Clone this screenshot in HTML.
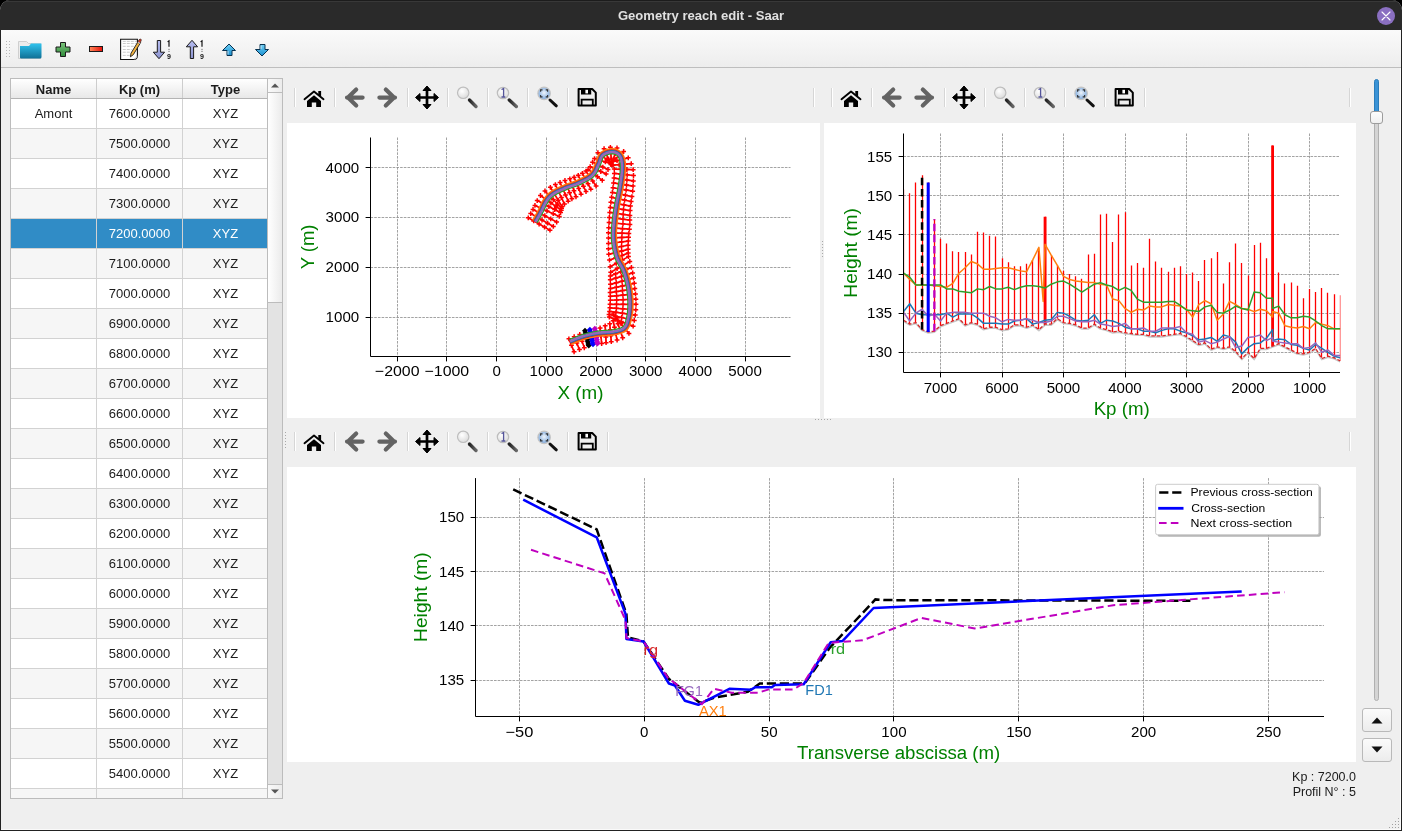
<!DOCTYPE html><html><head><meta charset="utf-8"><style>
*{margin:0;padding:0;box-sizing:border-box}
html,body{width:1402px;height:831px;overflow:hidden;background:#000}
body{font-family:"Liberation Sans",sans-serif;position:relative;-webkit-font-smoothing:antialiased}
#win{will-change:transform}
.abs{position:absolute}
#win{position:absolute;left:0;top:0;width:1402px;height:831px;background:#efefef;border-radius:10px 10px 0 0;overflow:hidden}
#title{position:absolute;left:0;top:0;width:1402px;height:30px;background:#2a2a2a;border-top:1px solid #1c1c1c;box-shadow:inset 0 1px 0 #383838}
#title .t{position:absolute;left:0;width:1402px;top:7px;text-align:center;color:#e0e0e0;font-weight:bold;font-size:13px;transform:scaleX(1.004);transform-origin:701px 0}
#tb{position:absolute;left:1px;top:30px;width:1400px;height:38px;background:linear-gradient(#fafafa,#ededed);border-bottom:1px solid #bebebe}
.tbl{position:absolute;left:10px;top:78px;width:259px;height:721px;border:1px solid #bcbcbc;border-right:none;background:#fff;overflow:hidden}
.row{position:absolute;left:0;width:257px;height:30px;border-bottom:1px solid #d2d2d2;font-size:13px;color:#1c1c1c}
.row.alt{background:#f6f6f6}
.row.sel{background:#308cc6;color:#fff}
.row div{position:absolute;top:0;height:29px;line-height:30px;text-align:center;border-right:1px solid #d2d2d2}
.hdr{position:absolute;left:0;top:0;width:257px;height:20px;background:linear-gradient(#ffffff,#e8e8e8);border-bottom:1px solid #b4b4b4;font-size:13px;font-weight:bold;color:#1c1c1c}
.hdr div{position:absolute;top:0;height:19px;line-height:21px;text-align:center;border-right:1px solid #cdcdcd}
.sep{position:absolute;width:2px;height:19px;border-left:1px solid #d6d6d6;border-right:1px solid #ffffff}
.panel{position:absolute;background:#fff}
</style></head><body>
<div id="win">
<div id="title"><div class="t">Geometry reach edit - Saar</div><svg class="abs" style="left:1376px;top:5px" width="20" height="20" viewBox="0 0 20 20"><circle cx="10" cy="10" r="9" fill="#8a6fc1"/><path d="M6 6L14 14M14 6L6 14" stroke="#fff" stroke-width="1.1" stroke-linecap="round"/></svg></div>
<div class="abs" style="left:0;top:30px;width:1px;height:801px;background:#222"></div>
<div class="abs" style="left:1401px;top:30px;width:1px;height:801px;background:#222"></div>
<div class="abs" style="left:0;top:830px;width:1402px;height:1px;background:#222"></div>
<div id="tb"></div><svg class="abs" style="left:0;top:0" width="290" height="70" viewBox="0 0 290 70"><rect x="6" y="41" width="1" height="1" fill="#b8b8b8"/><rect x="9" y="41" width="1" height="1" fill="#b8b8b8"/><rect x="6" y="44" width="1" height="1" fill="#b8b8b8"/><rect x="9" y="44" width="1" height="1" fill="#b8b8b8"/><rect x="6" y="47" width="1" height="1" fill="#b8b8b8"/><rect x="9" y="47" width="1" height="1" fill="#b8b8b8"/><rect x="6" y="50" width="1" height="1" fill="#b8b8b8"/><rect x="9" y="50" width="1" height="1" fill="#b8b8b8"/><rect x="6" y="53" width="1" height="1" fill="#b8b8b8"/><rect x="9" y="53" width="1" height="1" fill="#b8b8b8"/><rect x="6" y="56" width="1" height="1" fill="#b8b8b8"/><rect x="9" y="56" width="1" height="1" fill="#b8b8b8"/><defs><linearGradient id="fg" x1="0" y1="0" x2="0" y2="1"><stop offset="0" stop-color="#2fc3ee"/><stop offset="1" stop-color="#0f6f95"/></linearGradient><linearGradient id="pg" x1="0" y1="0" x2="0" y2="1"><stop offset="0" stop-color="#7cc47c"/><stop offset="1" stop-color="#2f8a3a"/></linearGradient><linearGradient id="mg" x1="0" y1="0" x2="1" y2="0"><stop offset="0" stop-color="#ff8a5a"/><stop offset="1" stop-color="#e8100a"/></linearGradient><linearGradient id="sg" x1="0" y1="0" x2="0" y2="1"><stop offset="0" stop-color="#b7bdf0"/><stop offset="1" stop-color="#8b93cf"/></linearGradient><linearGradient id="ag" x1="0" y1="0" x2="0" y2="1"><stop offset="0" stop-color="#6fd0f5"/><stop offset="1" stop-color="#1a8fd0"/></linearGradient></defs><path d="M18.5 41.5h8l2 2h12v15h-22z" fill="#ececec" stroke="#cfcfcf" stroke-width="1"/><path d="M20 46h9l2-2.5h10.5v13.5q0 1.5-1.5 1.5h-19q-1 0-1-1z" fill="url(#fg)"/><path d="M60.5 42.5h5v4.5h4.5v5h-4.5v4.5h-5v-4.5h-4.5v-5h4.5z" fill="url(#pg)" stroke="#1a1a1a" stroke-width="1"/><rect x="89.5" y="46.5" width="13" height="5" fill="url(#mg)" stroke="#1a1a1a" stroke-width="1"/><path d="M120.6 39.2H137.4V55.5Q137.4 59.5 133.4 59.5H120.6z" fill="#fff" stroke="#111" stroke-width="1.1"/><path d="M133.6 59.4Q137.4 59 137.3 55.6Q135.5 57.8 133.6 59.4z" fill="#ccc"/><path d="M122.8 41.4h14M122.8 43.5h13M122.8 46.3h11M122.8 49.5h9M122.8 52.2h8M122.8 55.4h7" stroke="#b5b5b5" stroke-width="0.7" stroke-dasharray="3 1"/><path d="M130.4 56.8L131 53.2L138.3 41.2L140.6 42.7L133.3 54.7z" fill="#f2b340" stroke="#1a1a1a" stroke-width="0.9" stroke-linejoin="round"/><path d="M137.6 42.3L139.2 39.6Q140.4 38.5 141.3 39.6L141.1 40.9L139.6 43.6z" fill="#d8381e" stroke="#1a1a1a" stroke-width="0.6"/><path d="M137.8 42.1L140.4 43.7" stroke="#bdbdbd" stroke-width="1.2"/><path d="M157.3 40.5H160.6V52.2H164.6L159 58.7L153.3 52.2H157.3z" fill="url(#sg)" stroke="#1a1a1a" stroke-width="1" stroke-linejoin="round"/><path d="M167.6 41.8L169 40.9V46.7" fill="none" stroke="#111" stroke-width="1.2"/><circle cx="169" cy="49.2" r="0.5" fill="#222"/><circle cx="169" cy="51.2" r="0.5" fill="#222"/><text x="169" y="58.9" font-size="7" font-weight="bold" text-anchor="middle" fill="#111">9</text><path d="M190.3 58.5H193.6V46.8H197.6L192 40.3L186.3 46.8H190.3z" fill="url(#sg)" stroke="#1a1a1a" stroke-width="1" stroke-linejoin="round"/><path d="M200.6 41.8L202 40.9V46.7" fill="none" stroke="#111" stroke-width="1.2"/><circle cx="202" cy="49.2" r="0.5" fill="#222"/><circle cx="202" cy="51.2" r="0.5" fill="#222"/><text x="202" y="58.9" font-size="7" font-weight="bold" text-anchor="middle" fill="#111">9</text><path d="M229 44l6.5 6.5h-3.5v5h-5v-5h-4.5z" fill="url(#ag)" stroke="#06304f" stroke-width="1"/><path d="M228 51v3.6" stroke="#e8f6ff" stroke-width="0.8"/><path d="M262 56l6.5-6.5h-3.5v-5h-5v5h-4.5z" fill="url(#ag)" stroke="#06304f" stroke-width="1"/><path d="M261 45.5v3.6" stroke="#e8f6ff" stroke-width="0.8"/></svg>
<div class="tbl"><div class="hdr"><div style="left:0;width:86px">Name</div><div style="left:86px;width:86px">Kp (m)</div><div style="left:172px;width:85px;border-right:none">Type</div></div><div class="row" style="top:20px"><div style="left:0;width:86px">Amont</div><div style="left:86px;width:86px">7600.0000</div><div style="left:172px;width:85px;border-right:none">XYZ</div></div><div class="row alt" style="top:50px"><div style="left:0;width:86px"></div><div style="left:86px;width:86px">7500.0000</div><div style="left:172px;width:85px;border-right:none">XYZ</div></div><div class="row" style="top:80px"><div style="left:0;width:86px"></div><div style="left:86px;width:86px">7400.0000</div><div style="left:172px;width:85px;border-right:none">XYZ</div></div><div class="row alt" style="top:110px"><div style="left:0;width:86px"></div><div style="left:86px;width:86px">7300.0000</div><div style="left:172px;width:85px;border-right:none">XYZ</div></div><div class="row sel" style="top:140px"><div style="left:0;width:86px"></div><div style="left:86px;width:86px">7200.0000</div><div style="left:172px;width:85px;border-right:none">XYZ</div></div><div class="row alt" style="top:170px"><div style="left:0;width:86px"></div><div style="left:86px;width:86px">7100.0000</div><div style="left:172px;width:85px;border-right:none">XYZ</div></div><div class="row" style="top:200px"><div style="left:0;width:86px"></div><div style="left:86px;width:86px">7000.0000</div><div style="left:172px;width:85px;border-right:none">XYZ</div></div><div class="row alt" style="top:230px"><div style="left:0;width:86px"></div><div style="left:86px;width:86px">6900.0000</div><div style="left:172px;width:85px;border-right:none">XYZ</div></div><div class="row" style="top:260px"><div style="left:0;width:86px"></div><div style="left:86px;width:86px">6800.0000</div><div style="left:172px;width:85px;border-right:none">XYZ</div></div><div class="row alt" style="top:290px"><div style="left:0;width:86px"></div><div style="left:86px;width:86px">6700.0000</div><div style="left:172px;width:85px;border-right:none">XYZ</div></div><div class="row" style="top:320px"><div style="left:0;width:86px"></div><div style="left:86px;width:86px">6600.0000</div><div style="left:172px;width:85px;border-right:none">XYZ</div></div><div class="row alt" style="top:350px"><div style="left:0;width:86px"></div><div style="left:86px;width:86px">6500.0000</div><div style="left:172px;width:85px;border-right:none">XYZ</div></div><div class="row" style="top:380px"><div style="left:0;width:86px"></div><div style="left:86px;width:86px">6400.0000</div><div style="left:172px;width:85px;border-right:none">XYZ</div></div><div class="row alt" style="top:410px"><div style="left:0;width:86px"></div><div style="left:86px;width:86px">6300.0000</div><div style="left:172px;width:85px;border-right:none">XYZ</div></div><div class="row" style="top:440px"><div style="left:0;width:86px"></div><div style="left:86px;width:86px">6200.0000</div><div style="left:172px;width:85px;border-right:none">XYZ</div></div><div class="row alt" style="top:470px"><div style="left:0;width:86px"></div><div style="left:86px;width:86px">6100.0000</div><div style="left:172px;width:85px;border-right:none">XYZ</div></div><div class="row" style="top:500px"><div style="left:0;width:86px"></div><div style="left:86px;width:86px">6000.0000</div><div style="left:172px;width:85px;border-right:none">XYZ</div></div><div class="row alt" style="top:530px"><div style="left:0;width:86px"></div><div style="left:86px;width:86px">5900.0000</div><div style="left:172px;width:85px;border-right:none">XYZ</div></div><div class="row" style="top:560px"><div style="left:0;width:86px"></div><div style="left:86px;width:86px">5800.0000</div><div style="left:172px;width:85px;border-right:none">XYZ</div></div><div class="row alt" style="top:590px"><div style="left:0;width:86px"></div><div style="left:86px;width:86px">5700.0000</div><div style="left:172px;width:85px;border-right:none">XYZ</div></div><div class="row" style="top:620px"><div style="left:0;width:86px"></div><div style="left:86px;width:86px">5600.0000</div><div style="left:172px;width:85px;border-right:none">XYZ</div></div><div class="row alt" style="top:650px"><div style="left:0;width:86px"></div><div style="left:86px;width:86px">5500.0000</div><div style="left:172px;width:85px;border-right:none">XYZ</div></div><div class="row" style="top:680px"><div style="left:0;width:86px"></div><div style="left:86px;width:86px">5400.0000</div><div style="left:172px;width:85px;border-right:none">XYZ</div></div><div class="row alt" style="top:710px"><div style="left:0;width:86px"></div><div style="left:86px;width:86px">5300.0000</div><div style="left:172px;width:85px;border-right:none">XYZ</div></div></div>
<div class="abs" style="left:267px;top:78px;width:1px;height:721px;background:#bcbcbc"></div>
<div class="abs" style="left:268px;top:78px;width:15px;height:721px;background:#e3e3e3;border-right:1px solid #bcbcbc;border-top:1px solid #bcbcbc;border-bottom:1px solid #bcbcbc"></div>
<div class="abs" style="left:268px;top:79px;width:14px;height:14px;background:linear-gradient(90deg,#f9f9f9,#ececec);border-bottom:1px solid #bcbcbc"></div>
<svg class="abs" style="left:268px;top:79px" width="14" height="14"><path d="M3 8.5h8l-4-4z" fill="#555"/></svg>
<div class="abs" style="left:268px;top:93px;width:14px;height:210px;background:linear-gradient(90deg,#ffffff,#ebebeb);border-bottom:1px solid #bcbcbc"></div>
<div class="abs" style="left:268px;top:784px;width:14px;height:14px;background:linear-gradient(90deg,#f9f9f9,#ececec);border-top:1px solid #bcbcbc"></div>
<svg class="abs" style="left:268px;top:784px" width="14" height="14"><path d="M3 5.5h8l-4 4z" fill="#555"/></svg>
<div class="sep" style="left:294px;top:88px"></div><div class="sep" style="left:334px;top:88px"></div><div class="sep" style="left:407px;top:88px"></div><div class="sep" style="left:447px;top:88px"></div><div class="sep" style="left:487px;top:88px"></div><div class="sep" style="left:527px;top:88px"></div><div class="sep" style="left:567px;top:88px"></div><div class="sep" style="left:607px;top:88px"></div><div class="sep" style="left:813px;top:88px"></div><svg class="abs" style="left:290px;top:80px" width="320" height="34" viewBox="290 80 320 34"><defs><radialGradient id="gl" cx="0.4" cy="0.35" r="0.7"><stop offset="0" stop-color="#ffffff"/><stop offset="1" stop-color="#d9d9d9"/></radialGradient><radialGradient id="gb" cx="0.5" cy="0.45" r="0.6"><stop offset="0" stop-color="#eef4fb"/><stop offset="1" stop-color="#6e9fd8"/></radialGradient><linearGradient id="hg" x1="0" y1="0" x2="1" y2="0"><stop offset="0" stop-color="#222"/><stop offset="1" stop-color="#666"/></linearGradient></defs><path d="M304.5 99.2L314 91.6L323.5 99.2" fill="none" stroke="#000" stroke-width="1.9" stroke-linecap="round" stroke-linejoin="round"/><rect x="318.3" y="91" width="2.8" height="5" fill="#000"/><path d="M307 101L314 95.3L321 101V107H316.2V102.5H311.8V107H307z" fill="#000"/><path d="M356.2 89.6L348 97.6L356.2 105.6M347 97.6H362.6" fill="none" stroke="#636363" stroke-width="4.2" stroke-linecap="round" stroke-linejoin="round"/><path d="M385.8 89.6L394 97.6L385.8 105.6M395 97.6H379.4" fill="none" stroke="#636363" stroke-width="4.2" stroke-linecap="round" stroke-linejoin="round"/><path d="M427 88V107M417 97.5H437" stroke="#000" stroke-width="2.7"/><path d="M427 86L431 90.5H423z M427 109L431 104.5H423z M415.5 97.5L420 93.5V101.5z M438.5 97.5L434 93.5V101.5z" fill="#000" stroke="#000" stroke-width="1" stroke-linejoin="round"/><path d="M469.5 100L476 106.5" stroke="url(#hg)" stroke-width="3.4" stroke-linecap="round"/><circle cx="463.2" cy="92.8" r="5.7" fill="url(#gl)" stroke="#bdbdbd" stroke-width="1.2"/><path d="M509.3 100L516.3 106.5" stroke="url(#hg)" stroke-width="3.4" stroke-linecap="round"/><circle cx="503" cy="93" r="5.7" fill="url(#gl)" stroke="#bdbdbd" stroke-width="1.2"/><path d="M501.5 89.5L503.6 88.6V97M501.5 97H505.3" fill="none" stroke="#55559a" stroke-width="1.3"/><path d="M550 100L556.3 105.8" stroke="#111" stroke-width="3" stroke-linecap="round"/><circle cx="544.1" cy="93.4" r="6.2" fill="url(#gb)" stroke="#c4c4c4" stroke-width="1.2"/><path d="M540.6 91.8V89.9H542.5M545.7 89.9H547.6V91.8M547.6 95V96.9H545.7M542.5 96.9H540.6V95" fill="none" stroke="#333" stroke-width="1.1"/><path d="M578.6 89H592.2L595.8 92.6V105.6H578.6z" fill="none" stroke="#000" stroke-width="2" stroke-linejoin="round"/><rect x="581" y="88.5" width="10.2" height="6" fill="#000"/><rect x="585.4" y="89.8" width="2.6" height="3.6" fill="#fff"/><path d="M581.6 105.5V99.6H592.8V105.5" fill="none" stroke="#000" stroke-width="1.8"/></svg>
<div class="sep" style="left:831px;top:88px"></div><div class="sep" style="left:871px;top:88px"></div><div class="sep" style="left:944px;top:88px"></div><div class="sep" style="left:984px;top:88px"></div><div class="sep" style="left:1024px;top:88px"></div><div class="sep" style="left:1064px;top:88px"></div><div class="sep" style="left:1104px;top:88px"></div><div class="sep" style="left:1144px;top:88px"></div><div class="sep" style="left:1349px;top:88px"></div><svg class="abs" style="left:827px;top:80px" width="320" height="34" viewBox="290 80 320 34"><defs><radialGradient id="gl" cx="0.4" cy="0.35" r="0.7"><stop offset="0" stop-color="#ffffff"/><stop offset="1" stop-color="#d9d9d9"/></radialGradient><radialGradient id="gb" cx="0.5" cy="0.45" r="0.6"><stop offset="0" stop-color="#eef4fb"/><stop offset="1" stop-color="#6e9fd8"/></radialGradient><linearGradient id="hg" x1="0" y1="0" x2="1" y2="0"><stop offset="0" stop-color="#222"/><stop offset="1" stop-color="#666"/></linearGradient></defs><path d="M304.5 99.2L314 91.6L323.5 99.2" fill="none" stroke="#000" stroke-width="1.9" stroke-linecap="round" stroke-linejoin="round"/><rect x="318.3" y="91" width="2.8" height="5" fill="#000"/><path d="M307 101L314 95.3L321 101V107H316.2V102.5H311.8V107H307z" fill="#000"/><path d="M356.2 89.6L348 97.6L356.2 105.6M347 97.6H362.6" fill="none" stroke="#636363" stroke-width="4.2" stroke-linecap="round" stroke-linejoin="round"/><path d="M385.8 89.6L394 97.6L385.8 105.6M395 97.6H379.4" fill="none" stroke="#636363" stroke-width="4.2" stroke-linecap="round" stroke-linejoin="round"/><path d="M427 88V107M417 97.5H437" stroke="#000" stroke-width="2.7"/><path d="M427 86L431 90.5H423z M427 109L431 104.5H423z M415.5 97.5L420 93.5V101.5z M438.5 97.5L434 93.5V101.5z" fill="#000" stroke="#000" stroke-width="1" stroke-linejoin="round"/><path d="M469.5 100L476 106.5" stroke="url(#hg)" stroke-width="3.4" stroke-linecap="round"/><circle cx="463.2" cy="92.8" r="5.7" fill="url(#gl)" stroke="#bdbdbd" stroke-width="1.2"/><path d="M509.3 100L516.3 106.5" stroke="url(#hg)" stroke-width="3.4" stroke-linecap="round"/><circle cx="503" cy="93" r="5.7" fill="url(#gl)" stroke="#bdbdbd" stroke-width="1.2"/><path d="M501.5 89.5L503.6 88.6V97M501.5 97H505.3" fill="none" stroke="#55559a" stroke-width="1.3"/><path d="M550 100L556.3 105.8" stroke="#111" stroke-width="3" stroke-linecap="round"/><circle cx="544.1" cy="93.4" r="6.2" fill="url(#gb)" stroke="#c4c4c4" stroke-width="1.2"/><path d="M540.6 91.8V89.9H542.5M545.7 89.9H547.6V91.8M547.6 95V96.9H545.7M542.5 96.9H540.6V95" fill="none" stroke="#333" stroke-width="1.1"/><path d="M578.6 89H592.2L595.8 92.6V105.6H578.6z" fill="none" stroke="#000" stroke-width="2" stroke-linejoin="round"/><rect x="581" y="88.5" width="10.2" height="6" fill="#000"/><rect x="585.4" y="89.8" width="2.6" height="3.6" fill="#fff"/><path d="M581.6 105.5V99.6H592.8V105.5" fill="none" stroke="#000" stroke-width="1.8"/></svg>
<div class="sep" style="left:294px;top:432px"></div><div class="sep" style="left:334px;top:432px"></div><div class="sep" style="left:407px;top:432px"></div><div class="sep" style="left:447px;top:432px"></div><div class="sep" style="left:487px;top:432px"></div><div class="sep" style="left:527px;top:432px"></div><div class="sep" style="left:567px;top:432px"></div><div class="sep" style="left:607px;top:432px"></div><div class="sep" style="left:1349px;top:432px"></div><svg class="abs" style="left:290px;top:424px" width="320" height="34" viewBox="290 80 320 34"><defs><radialGradient id="gl" cx="0.4" cy="0.35" r="0.7"><stop offset="0" stop-color="#ffffff"/><stop offset="1" stop-color="#d9d9d9"/></radialGradient><radialGradient id="gb" cx="0.5" cy="0.45" r="0.6"><stop offset="0" stop-color="#eef4fb"/><stop offset="1" stop-color="#6e9fd8"/></radialGradient><linearGradient id="hg" x1="0" y1="0" x2="1" y2="0"><stop offset="0" stop-color="#222"/><stop offset="1" stop-color="#666"/></linearGradient></defs><path d="M304.5 99.2L314 91.6L323.5 99.2" fill="none" stroke="#000" stroke-width="1.9" stroke-linecap="round" stroke-linejoin="round"/><rect x="318.3" y="91" width="2.8" height="5" fill="#000"/><path d="M307 101L314 95.3L321 101V107H316.2V102.5H311.8V107H307z" fill="#000"/><path d="M356.2 89.6L348 97.6L356.2 105.6M347 97.6H362.6" fill="none" stroke="#636363" stroke-width="4.2" stroke-linecap="round" stroke-linejoin="round"/><path d="M385.8 89.6L394 97.6L385.8 105.6M395 97.6H379.4" fill="none" stroke="#636363" stroke-width="4.2" stroke-linecap="round" stroke-linejoin="round"/><path d="M427 88V107M417 97.5H437" stroke="#000" stroke-width="2.7"/><path d="M427 86L431 90.5H423z M427 109L431 104.5H423z M415.5 97.5L420 93.5V101.5z M438.5 97.5L434 93.5V101.5z" fill="#000" stroke="#000" stroke-width="1" stroke-linejoin="round"/><path d="M469.5 100L476 106.5" stroke="url(#hg)" stroke-width="3.4" stroke-linecap="round"/><circle cx="463.2" cy="92.8" r="5.7" fill="url(#gl)" stroke="#bdbdbd" stroke-width="1.2"/><path d="M509.3 100L516.3 106.5" stroke="url(#hg)" stroke-width="3.4" stroke-linecap="round"/><circle cx="503" cy="93" r="5.7" fill="url(#gl)" stroke="#bdbdbd" stroke-width="1.2"/><path d="M501.5 89.5L503.6 88.6V97M501.5 97H505.3" fill="none" stroke="#55559a" stroke-width="1.3"/><path d="M550 100L556.3 105.8" stroke="#111" stroke-width="3" stroke-linecap="round"/><circle cx="544.1" cy="93.4" r="6.2" fill="url(#gb)" stroke="#c4c4c4" stroke-width="1.2"/><path d="M540.6 91.8V89.9H542.5M545.7 89.9H547.6V91.8M547.6 95V96.9H545.7M542.5 96.9H540.6V95" fill="none" stroke="#333" stroke-width="1.1"/><path d="M578.6 89H592.2L595.8 92.6V105.6H578.6z" fill="none" stroke="#000" stroke-width="2" stroke-linejoin="round"/><rect x="581" y="88.5" width="10.2" height="6" fill="#000"/><rect x="585.4" y="89.8" width="2.6" height="3.6" fill="#fff"/><path d="M581.6 105.5V99.6H592.8V105.5" fill="none" stroke="#000" stroke-width="1.8"/></svg>
<svg class="abs" style="left:0;top:0" width="1402" height="831"><rect x="285" y="432" width="1" height="1" fill="#a8a8a8"/><rect x="822" y="241" width="1" height="1" fill="#a8a8a8"/><rect x="815" y="419" width="1" height="1" fill="#a8a8a8"/><rect x="285" y="435" width="1" height="1" fill="#a8a8a8"/><rect x="822" y="244" width="1" height="1" fill="#a8a8a8"/><rect x="818" y="419" width="1" height="1" fill="#a8a8a8"/><rect x="285" y="438" width="1" height="1" fill="#a8a8a8"/><rect x="822" y="247" width="1" height="1" fill="#a8a8a8"/><rect x="821" y="419" width="1" height="1" fill="#a8a8a8"/><rect x="285" y="441" width="1" height="1" fill="#a8a8a8"/><rect x="822" y="250" width="1" height="1" fill="#a8a8a8"/><rect x="824" y="419" width="1" height="1" fill="#a8a8a8"/><rect x="285" y="444" width="1" height="1" fill="#a8a8a8"/><rect x="822" y="253" width="1" height="1" fill="#a8a8a8"/><rect x="827" y="419" width="1" height="1" fill="#a8a8a8"/><rect x="285" y="447" width="1" height="1" fill="#a8a8a8"/><rect x="822" y="256" width="1" height="1" fill="#a8a8a8"/><rect x="830" y="419" width="1" height="1" fill="#a8a8a8"/><rect x="1389" y="827" width="1" height="1" fill="#a0a0a0"/><rect x="1392" y="827" width="1" height="1" fill="#a0a0a0"/><rect x="1395" y="827" width="1" height="1" fill="#a0a0a0"/><rect x="1398" y="827" width="1" height="1" fill="#a0a0a0"/><rect x="1392" y="824" width="1" height="1" fill="#a0a0a0"/><rect x="1395" y="824" width="1" height="1" fill="#a0a0a0"/><rect x="1398" y="824" width="1" height="1" fill="#a0a0a0"/><rect x="1395" y="821" width="1" height="1" fill="#a0a0a0"/><rect x="1398" y="821" width="1" height="1" fill="#a0a0a0"/><rect x="1398" y="818" width="1" height="1" fill="#a0a0a0"/></svg>
<div class="abs" style="left:1400px;top:68px;width:1px;height:762px;background:#fafafa"></div>
<div class="abs" style="left:1px;top:829px;width:1400px;height:1px;background:#fafafa"></div>
<div class="panel" style="left:287px;top:123px;width:533px;height:295px"></div>
<div class="panel" style="left:824px;top:123px;width:532px;height:295px"></div>
<div class="panel" style="left:287px;top:467px;width:1069px;height:295px"></div>
<div class="abs" style="left:1374px;top:79px;width:5px;height:36px;background:#3a93d6;border-radius:2.5px;border:1px solid #2b7dbb"></div>
<div class="abs" style="left:1374px;top:118px;width:5px;height:583px;background:#d4d4d4;border-radius:2.5px;border:1px solid #b0b0b0"></div>
<div class="abs" style="left:1370px;top:111px;width:13px;height:13px;background:linear-gradient(#fefefe,#f0f0f0);border:1px solid #9c9c9c;border-radius:3px"></div>
<div class="abs" style="left:1362px;top:708px;width:30px;height:24px;background:linear-gradient(#fbfbfb,#ececec);border:1px solid #b9b9b9;border-radius:3px"></div>
<svg class="abs" style="left:1362px;top:708px" width="30" height="24"><path d="M9.5 15.5H20.5L15 9.5z" fill="#111"/></svg>
<div class="abs" style="left:1362px;top:738px;width:30px;height:24px;background:linear-gradient(#fbfbfb,#ececec);border:1px solid #b9b9b9;border-radius:3px"></div>
<svg class="abs" style="left:1362px;top:738px" width="30" height="24"><path d="M9.5 8.5H20.5L15 14.5z" fill="#111"/></svg>
<div class="abs" style="left:1200px;top:770px;width:1156px;font-size:12.5px;color:#1a1a1a;text-align:right;line-height:15px;width:156px">Kp : 7200.0<br>Profil N° : 5</div>
<svg class="abs" style="left:0;top:0" width="1402" height="831" viewBox="0 0 1402 831"><line x1="397.5" y1="137.5" x2="397.5" y2="356.5" stroke="#8c8c8c" stroke-width="0.8" stroke-dasharray="2.6 1.1"/><line x1="446.5" y1="137.5" x2="446.5" y2="356.5" stroke="#8c8c8c" stroke-width="0.8" stroke-dasharray="2.6 1.1"/><line x1="496.5" y1="137.5" x2="496.5" y2="356.5" stroke="#8c8c8c" stroke-width="0.8" stroke-dasharray="2.6 1.1"/><line x1="546.5" y1="137.5" x2="546.5" y2="356.5" stroke="#8c8c8c" stroke-width="0.8" stroke-dasharray="2.6 1.1"/><line x1="596.5" y1="137.5" x2="596.5" y2="356.5" stroke="#8c8c8c" stroke-width="0.8" stroke-dasharray="2.6 1.1"/><line x1="645.5" y1="137.5" x2="645.5" y2="356.5" stroke="#8c8c8c" stroke-width="0.8" stroke-dasharray="2.6 1.1"/><line x1="695.5" y1="137.5" x2="695.5" y2="356.5" stroke="#8c8c8c" stroke-width="0.8" stroke-dasharray="2.6 1.1"/><line x1="745.5" y1="137.5" x2="745.5" y2="356.5" stroke="#8c8c8c" stroke-width="0.8" stroke-dasharray="2.6 1.1"/><line x1="370.5" y1="317.5" x2="790.5" y2="317.5" stroke="#8c8c8c" stroke-width="0.8" stroke-dasharray="2.6 1.1"/><line x1="370.5" y1="267.5" x2="790.5" y2="267.5" stroke="#8c8c8c" stroke-width="0.8" stroke-dasharray="2.6 1.1"/><line x1="370.5" y1="217.5" x2="790.5" y2="217.5" stroke="#8c8c8c" stroke-width="0.8" stroke-dasharray="2.6 1.1"/><line x1="370.5" y1="167.5" x2="790.5" y2="167.5" stroke="#8c8c8c" stroke-width="0.8" stroke-dasharray="2.6 1.1"/><path d="M568.89 338.81L574.08 351.82M574.19 336.63L579.51 349.58M579.74 334.51L584.32 347.74M600.12 328.02L601.66 343.55M605.19 325.85L606.07 342.64M609.73 323.68L611.29 341.68M613.21 320.74L617.08 340.08M615.65 316.85L622.69 337.87M613.06 314.12L628.94 333.42M609.32 317.09L633.13 326.15M609.06 314.51L634.28 320.46M609.53 311.39L635.27 315.06M609.9 307.82L635.83 309.74M610.04 304.35L636 304.36M610.28 300.25L635.89 299.15M610.3 296.32L635.51 293.91M610.1 292.61L634.82 288.62M610.36 288.57L634.3 283.33M610.45 284.34L633.58 278.07M610.27 279.86L632.65 272.92M610.31 275.96L631.43 267.39M610.73 272.15L629.81 261.45M610.14 266.71L628.5 256.62M609.5 260.12L628.26 253.09M608.74 254.31L628.12 249.36M608.42 248.84L628.09 245.25M608.45 243.47L628.3 241.07M608.46 238.11L628.57 237.2M608.42 232.79L628.86 233.41M608.71 227.63L629.42 229.18M609.06 222.62L629.91 224.49M609.33 217.5L629.83 220.04M609.74 212.43L629.91 215.41M610.24 207.44L630.11 210.61M610.85 202.34L630.49 206.09M611.6 197.3L631.16 201.5M612.37 192.43L631.94 196.55M613 187.75L632.7 191.21M613.54 182.92L633.07 186.09M614.04 178.09L633.35 180.96M614.37 173.46L633.51 175.51M614.27 169.12L633.16 169.66M613.15 165.16L631.27 163.68M611.43 162.07L628.24 157.87M610.71 162.86L623.64 151.51M611.48 164.6L617.01 147.99M611.63 164.74L610.38 147.28M610.85 164.56L604.08 148.66M611.36 163.07L597.9 152.68M610.74 163.68L594.53 158.54M608.01 169.51L592.56 162.25M606.11 173.89L590.18 166.7M602.27 180.32L588.12 169.41M596.09 186L585.97 171.12M590.84 189.17L582.38 173.28M586 191.6L578.23 175.36M581.04 194.21L574.1 177.24M575.98 196.73L569.84 178.79M571.87 198.82L564.96 180.48M568.2 201.21L560.06 182.48M564.49 204.03L555.37 184.59M562.07 206.61L550.35 187.28M561.63 208.23L544.96 190.98M561.34 210.23L540.45 195.51M560.59 212.62L537.21 200.61M559.29 216.42L534.95 205.47M556.66 222.06L533.02 209.42M553.33 226.43L530.71 213.55M549.98 230.2L528.24 217.85" stroke="#ff0000" stroke-width="1.7" fill="none"/><path d="M566.49 338.81h4.8M568.89 336.41v4.8M569.08 345.32h4.8M571.48 342.92v4.8M571.68 351.82h4.8M574.08 349.42v4.8M571.79 336.63h4.8M574.19 334.23v4.8M574.45 343.1h4.8M576.85 340.7v4.8M577.11 349.58h4.8M579.51 347.18v4.8M577.34 334.51h4.8M579.74 332.11v4.8M579.63 341.13h4.8M582.03 338.73v4.8M581.92 347.74h4.8M584.32 345.34v4.8M597.72 328.02h4.8M600.12 325.62v4.8M598.49 335.78h4.8M600.89 333.38v4.8M599.26 343.55h4.8M601.66 341.15v4.8M602.79 325.85h4.8M605.19 323.45v4.8M603.08 331.44h4.8M605.48 329.04v4.8M603.38 337.04h4.8M605.78 334.64v4.8M603.67 342.64h4.8M606.07 340.24v4.8M607.33 323.68h4.8M609.73 321.28v4.8M607.85 329.68h4.8M610.25 327.28v4.8M608.37 335.68h4.8M610.77 333.28v4.8M608.89 341.68h4.8M611.29 339.28v4.8M610.81 320.74h4.8M613.21 318.34v4.8M612.1 327.19h4.8M614.5 324.79v4.8M613.39 333.63h4.8M615.79 331.23v4.8M614.68 340.08h4.8M617.08 337.68v4.8M613.25 316.85h4.8M615.65 314.45v4.8M615.59 323.86h4.8M617.99 321.46v4.8M617.94 330.86h4.8M620.34 328.46v4.8M620.29 337.87h4.8M622.69 335.47v4.8M610.66 314.12h4.8M613.06 311.72v4.8M614.63 318.94h4.8M617.03 316.54v4.8M618.6 323.77h4.8M621 321.37v4.8M622.57 328.59h4.8M624.97 326.19v4.8M626.54 333.42h4.8M628.94 331.02v4.8M606.92 317.09h4.8M609.32 314.69v4.8M612.88 319.35h4.8M615.28 316.95v4.8M618.83 321.62h4.8M621.23 319.22v4.8M624.78 323.88h4.8M627.18 321.48v4.8M630.73 326.15h4.8M633.13 323.75v4.8M606.66 314.51h4.8M609.06 312.11v4.8M612.97 316h4.8M615.37 313.6v4.8M619.27 317.49h4.8M621.67 315.09v4.8M625.58 318.97h4.8M627.98 316.57v4.8M631.88 320.46h4.8M634.28 318.06v4.8M607.13 311.39h4.8M609.53 308.99v4.8M613.56 312.31h4.8M615.96 309.91v4.8M620 313.23h4.8M622.4 310.83v4.8M626.43 314.14h4.8M628.83 311.74v4.8M632.87 315.06h4.8M635.27 312.66v4.8M607.5 307.82h4.8M609.9 305.42v4.8M613.99 308.3h4.8M616.39 305.9v4.8M620.47 308.78h4.8M622.87 306.38v4.8M626.95 309.26h4.8M629.35 306.86v4.8M633.43 309.74h4.8M635.83 307.34v4.8M607.64 304.35h4.8M610.04 301.95v4.8M614.13 304.35h4.8M616.53 301.95v4.8M620.62 304.35h4.8M623.02 301.95v4.8M627.11 304.35h4.8M629.51 301.95v4.8M633.6 304.36h4.8M636 301.96v4.8M607.88 300.25h4.8M610.28 297.85v4.8M614.28 299.98h4.8M616.68 297.58v4.8M620.68 299.7h4.8M623.08 297.3v4.8M627.09 299.43h4.8M629.49 297.03v4.8M633.49 299.15h4.8M635.89 296.75v4.8M607.9 296.32h4.8M610.3 293.92v4.8M614.2 295.72h4.8M616.6 293.32v4.8M620.5 295.11h4.8M622.9 292.71v4.8M626.81 294.51h4.8M629.21 292.11v4.8M633.11 293.91h4.8M635.51 291.51v4.8M607.7 292.61h4.8M610.1 290.21v4.8M613.88 291.61h4.8M616.28 289.21v4.8M620.06 290.61h4.8M622.46 288.21v4.8M626.24 289.62h4.8M628.64 287.22v4.8M632.42 288.62h4.8M634.82 286.22v4.8M607.96 288.57h4.8M610.36 286.17v4.8M613.95 287.26h4.8M616.35 284.86v4.8M619.93 285.95h4.8M622.33 283.55v4.8M625.92 284.64h4.8M628.32 282.24v4.8M631.9 283.33h4.8M634.3 280.93v4.8M608.05 284.34h4.8M610.45 281.94v4.8M613.83 282.77h4.8M616.23 280.37v4.8M619.62 281.21h4.8M622.02 278.81v4.8M625.4 279.64h4.8M627.8 277.24v4.8M631.18 278.07h4.8M633.58 275.67v4.8M607.87 279.86h4.8M610.27 277.46v4.8M613.47 278.12h4.8M615.87 275.72v4.8M619.06 276.39h4.8M621.46 273.99v4.8M624.65 274.65h4.8M627.05 272.25v4.8M630.25 272.92h4.8M632.65 270.52v4.8M607.91 275.96h4.8M610.31 273.56v4.8M613.19 273.82h4.8M615.59 271.42v4.8M618.47 271.68h4.8M620.87 269.28v4.8M623.75 269.53h4.8M626.15 267.13v4.8M629.03 267.39h4.8M631.43 264.99v4.8M608.33 272.15h4.8M610.73 269.75v4.8M614.69 268.58h4.8M617.09 266.18v4.8M621.05 265.01h4.8M623.45 262.61v4.8M627.41 261.45h4.8M629.81 259.05v4.8M607.74 266.71h4.8M610.14 264.31v4.8M613.86 263.35h4.8M616.26 260.95v4.8M619.98 259.98h4.8M622.38 257.58v4.8M626.1 256.62h4.8M628.5 254.22v4.8M607.1 260.12h4.8M609.5 257.72v4.8M613.35 257.77h4.8M615.75 255.37v4.8M619.61 255.43h4.8M622.01 253.03v4.8M625.86 253.09h4.8M628.26 250.69v4.8M606.34 254.31h4.8M608.74 251.91v4.8M612.8 252.66h4.8M615.2 250.26v4.8M619.26 251.01h4.8M621.66 248.61v4.8M625.72 249.36h4.8M628.12 246.96v4.8M606.02 248.84h4.8M608.42 246.44v4.8M612.58 247.64h4.8M614.98 245.24v4.8M619.13 246.44h4.8M621.53 244.04v4.8M625.69 245.25h4.8M628.09 242.85v4.8M606.05 243.47h4.8M608.45 241.07v4.8M612.67 242.67h4.8M615.07 240.27v4.8M619.28 241.87h4.8M621.68 239.47v4.8M625.9 241.07h4.8M628.3 238.67v4.8M606.06 238.11h4.8M608.46 235.71v4.8M612.76 237.81h4.8M615.16 235.41v4.8M619.47 237.5h4.8M621.87 235.1v4.8M626.17 237.2h4.8M628.57 234.8v4.8M606.02 232.79h4.8M608.42 230.39v4.8M612.83 233h4.8M615.23 230.6v4.8M619.64 233.21h4.8M622.04 230.81v4.8M626.46 233.41h4.8M628.86 231.01v4.8M606.31 227.63h4.8M608.71 225.23v4.8M613.21 228.15h4.8M615.61 225.75v4.8M620.11 228.66h4.8M622.51 226.26v4.8M627.02 229.18h4.8M629.42 226.78v4.8M606.66 222.62h4.8M609.06 220.22v4.8M613.61 223.24h4.8M616.01 220.84v4.8M620.56 223.87h4.8M622.96 221.47v4.8M627.51 224.49h4.8M629.91 222.09v4.8M606.93 217.5h4.8M609.33 215.1v4.8M613.76 218.35h4.8M616.16 215.95v4.8M620.6 219.19h4.8M623 216.79v4.8M627.43 220.04h4.8M629.83 217.64v4.8M607.34 212.43h4.8M609.74 210.03v4.8M614.06 213.43h4.8M616.46 211.03v4.8M620.79 214.42h4.8M623.19 212.02v4.8M627.51 215.41h4.8M629.91 213.01v4.8M607.84 207.44h4.8M610.24 205.04v4.8M614.46 208.5h4.8M616.86 206.1v4.8M621.08 209.55h4.8M623.48 207.15v4.8M627.71 210.61h4.8M630.11 208.21v4.8M608.45 202.34h4.8M610.85 199.94v4.8M615 203.59h4.8M617.4 201.19v4.8M621.54 204.84h4.8M623.94 202.44v4.8M628.09 206.09h4.8M630.49 203.69v4.8M609.2 197.3h4.8M611.6 194.9v4.8M615.72 198.7h4.8M618.12 196.3v4.8M622.24 200.1h4.8M624.64 197.7v4.8M628.76 201.5h4.8M631.16 199.1v4.8M609.97 192.43h4.8M612.37 190.03v4.8M616.49 193.81h4.8M618.89 191.41v4.8M623.02 195.18h4.8M625.42 192.78v4.8M629.54 196.55h4.8M631.94 194.15v4.8M610.6 187.75h4.8M613 185.35v4.8M617.17 188.9h4.8M619.57 186.5v4.8M623.74 190.06h4.8M626.14 187.66v4.8M630.3 191.21h4.8M632.7 188.81v4.8M611.14 182.92h4.8M613.54 180.52v4.8M617.65 183.98h4.8M620.05 181.58v4.8M624.16 185.03h4.8M626.56 182.63v4.8M630.67 186.09h4.8M633.07 183.69v4.8M611.64 178.09h4.8M614.04 175.69v4.8M618.07 179.05h4.8M620.47 176.65v4.8M624.51 180h4.8M626.91 177.6v4.8M630.95 180.96h4.8M633.35 178.56v4.8M611.97 173.46h4.8M614.37 171.06v4.8M618.35 174.14h4.8M620.75 171.74v4.8M624.73 174.83h4.8M627.13 172.43v4.8M631.11 175.51h4.8M633.51 173.11v4.8M611.87 169.12h4.8M614.27 166.72v4.8M618.17 169.3h4.8M620.57 166.9v4.8M624.47 169.48h4.8M626.87 167.08v4.8M630.76 169.66h4.8M633.16 167.26v4.8M610.75 165.16h4.8M613.15 162.76v4.8M616.79 164.67h4.8M619.19 162.27v4.8M622.83 164.17h4.8M625.23 161.77v4.8M628.87 163.68h4.8M631.27 161.28v4.8M609.03 162.07h4.8M611.43 159.67v4.8M614.63 160.67h4.8M617.03 158.27v4.8M620.24 159.27h4.8M622.64 156.87v4.8M625.84 157.87h4.8M628.24 155.47v4.8M608.31 162.86h4.8M610.71 160.46v4.8M612.62 159.08h4.8M615.02 156.68v4.8M616.93 155.29h4.8M619.33 152.89v4.8M621.24 151.51h4.8M623.64 149.11v4.8M609.08 164.6h4.8M611.48 162.2v4.8M610.92 159.06h4.8M613.32 156.66v4.8M612.77 153.53h4.8M615.17 151.13v4.8M614.61 147.99h4.8M617.01 145.59v4.8M609.23 164.74h4.8M611.63 162.34v4.8M608.82 158.92h4.8M611.22 156.52v4.8M608.4 153.1h4.8M610.8 150.7v4.8M607.98 147.28h4.8M610.38 144.88v4.8M608.45 164.56h4.8M610.85 162.16v4.8M606.2 159.26h4.8M608.6 156.86v4.8M603.94 153.96h4.8M606.34 151.56v4.8M601.68 148.66h4.8M604.08 146.26v4.8M608.96 163.07h4.8M611.36 160.67v4.8M604.48 159.61h4.8M606.88 157.21v4.8M599.99 156.15h4.8M602.39 153.75v4.8M595.5 152.68h4.8M597.9 150.28v4.8M608.34 163.68h4.8M610.74 161.28v4.8M602.93 161.97h4.8M605.33 159.57v4.8M597.53 160.25h4.8M599.93 157.85v4.8M592.13 158.54h4.8M594.53 156.14v4.8M605.61 169.51h4.8M608.01 167.11v4.8M600.46 167.09h4.8M602.86 164.69v4.8M595.31 164.67h4.8M597.71 162.27v4.8M590.16 162.25h4.8M592.56 159.85v4.8M603.71 173.89h4.8M606.11 171.49v4.8M598.4 171.49h4.8M600.8 169.09v4.8M593.09 169.1h4.8M595.49 166.7v4.8M587.78 166.7h4.8M590.18 164.3v4.8M599.87 180.32h4.8M602.27 177.92v4.8M595.15 176.68h4.8M597.55 174.28v4.8M590.44 173.05h4.8M592.84 170.65v4.8M585.72 169.41h4.8M588.12 167.01v4.8M593.69 186h4.8M596.09 183.6v4.8M590.32 181.04h4.8M592.72 178.64v4.8M586.94 176.08h4.8M589.34 173.68v4.8M583.57 171.12h4.8M585.97 168.72v4.8M588.44 189.17h4.8M590.84 186.77v4.8M585.62 183.87h4.8M588.02 181.47v4.8M582.8 178.58h4.8M585.2 176.18v4.8M579.98 173.28h4.8M582.38 170.88v4.8M583.6 191.6h4.8M586 189.2v4.8M581.01 186.19h4.8M583.41 183.79v4.8M578.42 180.77h4.8M580.82 178.37v4.8M575.83 175.36h4.8M578.23 172.96v4.8M578.64 194.21h4.8M581.04 191.81v4.8M576.32 188.55h4.8M578.72 186.15v4.8M574.01 182.9h4.8M576.41 180.5v4.8M571.7 177.24h4.8M574.1 174.84v4.8M573.58 196.73h4.8M575.98 194.33v4.8M571.53 190.75h4.8M573.93 188.35v4.8M569.48 184.77h4.8M571.88 182.37v4.8M567.44 178.79h4.8M569.84 176.39v4.8M569.47 198.82h4.8M571.87 196.42v4.8M567.17 192.7h4.8M569.57 190.3v4.8M564.86 186.59h4.8M567.26 184.19v4.8M562.56 180.48h4.8M564.96 178.08v4.8M565.8 201.21h4.8M568.2 198.81v4.8M563.08 194.97h4.8M565.48 192.57v4.8M560.37 188.72h4.8M562.77 186.32v4.8M557.66 182.48h4.8M560.06 180.08v4.8M562.09 204.03h4.8M564.49 201.63v4.8M559.05 197.55h4.8M561.45 195.15v4.8M556.01 191.07h4.8M558.41 188.67v4.8M552.97 184.59h4.8M555.37 182.19v4.8M559.67 206.61h4.8M562.07 204.21v4.8M555.77 200.17h4.8M558.17 197.77v4.8M551.86 193.72h4.8M554.26 191.32v4.8M547.95 187.28h4.8M550.35 184.88v4.8M559.23 208.23h4.8M561.63 205.83v4.8M555.06 203.92h4.8M557.46 201.52v4.8M550.9 199.61h4.8M553.3 197.21v4.8M546.73 195.3h4.8M549.13 192.9v4.8M542.56 190.98h4.8M544.96 188.58v4.8M558.94 210.23h4.8M561.34 207.83v4.8M553.72 206.55h4.8M556.12 204.15v4.8M548.5 202.87h4.8M550.9 200.47v4.8M543.28 199.19h4.8M545.68 196.79v4.8M538.05 195.51h4.8M540.45 193.11v4.8M558.19 212.62h4.8M560.59 210.22v4.8M552.35 209.62h4.8M554.75 207.22v4.8M546.5 206.61h4.8M548.9 204.21v4.8M540.66 203.61h4.8M543.06 201.21v4.8M534.81 200.61h4.8M537.21 198.21v4.8M556.89 216.42h4.8M559.29 214.02v4.8M550.81 213.68h4.8M553.21 211.28v4.8M544.72 210.94h4.8M547.12 208.54v4.8M538.64 208.21h4.8M541.04 205.81v4.8M532.55 205.47h4.8M534.95 203.07v4.8M554.26 222.06h4.8M556.66 219.66v4.8M548.35 218.9h4.8M550.75 216.5v4.8M542.44 215.74h4.8M544.84 213.34v4.8M536.53 212.58h4.8M538.93 210.18v4.8M530.62 209.42h4.8M533.02 207.02v4.8M550.93 226.43h4.8M553.33 224.03v4.8M545.28 223.21h4.8M547.68 220.81v4.8M539.62 219.99h4.8M542.02 217.59v4.8M533.96 216.77h4.8M536.36 214.37v4.8M528.31 213.55h4.8M530.71 211.15v4.8M547.58 230.2h4.8M549.98 227.8v4.8M542.15 227.11h4.8M544.55 224.71v4.8M536.71 224.02h4.8M539.11 221.62v4.8M531.28 220.94h4.8M533.68 218.54v4.8M525.84 217.85h4.8M528.24 215.45v4.8" stroke="#ff0000" stroke-width="1.5" fill="none"/><line x1="584.99" y1="330.85" x2="588.75" y2="345.38" stroke="#000" stroke-width="3"/><path d="M584.99 327.85L587.99 330.85L584.99 333.85L581.99 330.85z" fill="#000"/><path d="M585.55 330.03L588.55 333.03L585.55 336.03L582.55 333.03z" fill="#000"/><path d="M586.12 332.21L589.12 335.21L586.12 338.21L583.12 335.21z" fill="#000"/><path d="M586.68 334.39L589.68 337.39L586.68 340.39L583.68 337.39z" fill="#000"/><path d="M587.24 336.57L590.24 339.57L587.24 342.57L584.24 339.57z" fill="#000"/><path d="M587.81 338.75L590.81 341.75L587.81 344.75L584.81 341.75z" fill="#000"/><path d="M588.37 340.92L591.37 343.92L588.37 346.92L585.37 343.92z" fill="#000"/><path d="M588.75 342.38L591.75 345.38L588.75 348.38L585.75 345.38z" fill="#000"/><line x1="589.85" y1="329.69" x2="593.03" y2="344.35" stroke="#0000ff" stroke-width="3"/><path d="M589.85 326.69L592.85 329.69L589.85 332.69L586.85 329.69z" fill="#0000ff"/><path d="M590.33 328.89L593.33 331.89L590.33 334.89L587.33 331.89z" fill="#0000ff"/><path d="M590.8 331.08L593.8 334.08L590.8 337.08L587.8 334.08z" fill="#0000ff"/><path d="M591.28 333.28L594.28 336.28L591.28 339.28L588.28 336.28z" fill="#0000ff"/><path d="M591.76 335.48L594.76 338.48L591.76 341.48L588.76 338.48z" fill="#0000ff"/><path d="M592.23 337.68L595.23 340.68L592.23 343.68L589.23 340.68z" fill="#0000ff"/><path d="M592.71 339.88L595.71 342.88L592.71 345.88L589.71 342.88z" fill="#0000ff"/><path d="M593.03 341.35L596.03 344.35L593.03 347.35L590.03 344.35z" fill="#0000ff"/><line x1="594.84" y1="328.69" x2="597.45" y2="343.47" stroke="#bf00bf" stroke-width="3"/><path d="M594.84 325.69L597.84 328.69L594.84 331.69L591.84 328.69z" fill="#bf00bf"/><path d="M595.24 327.91L598.24 330.91L595.24 333.91L592.24 330.91z" fill="#bf00bf"/><path d="M595.63 330.13L598.63 333.13L595.63 336.13L592.63 333.13z" fill="#bf00bf"/><path d="M596.02 332.34L599.02 335.34L596.02 338.34L593.02 335.34z" fill="#bf00bf"/><path d="M596.41 334.56L599.41 337.56L596.41 340.56L593.41 337.56z" fill="#bf00bf"/><path d="M596.8 336.77L599.8 339.77L596.8 342.77L593.8 339.77z" fill="#bf00bf"/><path d="M597.19 338.99L600.19 341.99L597.19 344.99L594.19 341.99z" fill="#bf00bf"/><path d="M597.45 340.47L600.45 343.47L597.45 346.47L594.45 343.47z" fill="#bf00bf"/><polyline points="569.26,339.74 570.01,339.44 570.96,339.05 572.11,338.57 573.4,338.03 574.8,337.46 576.29,336.86 577.82,336.27 579.38,335.69 580.92,335.16 582.42,334.69 583.89,334.26 585.38,333.85 586.9,333.46 588.44,333.08 590,332.72 591.57,332.38 593.16,332.06 594.74,331.76 596.32,331.48 597.91,331.22 599.53,331 601.2,330.84 602.87,330.71 604.53,330.61 606.17,330.53 607.77,330.44 609.32,330.34 610.78,330.21 612.15,330.05 613.44,329.83 614.71,329.58 615.95,329.33 617.14,329.08 618.25,328.81 619.28,328.53 620.23,328.21 621.09,327.85 621.86,327.46 622.54,327.03 623.13,326.54 623.65,325.99 624.11,325.36 624.52,324.63 624.9,323.81 625.24,322.91 625.55,321.94 625.84,320.9 626.12,319.82 626.38,318.69 626.65,317.55 626.9,316.42 627.13,315.28 627.32,314.11 627.5,312.9 627.64,311.66 627.76,310.39 627.86,309.09 627.93,307.75 627.98,306.39 628,304.98 628,303.54 627.98,302.06 627.94,300.54 627.87,298.99 627.78,297.41 627.66,295.82 627.5,294.21 627.32,292.59 627.09,290.97 626.83,289.34 626.53,287.68 626.18,285.97 625.8,284.23 625.39,282.48 624.94,280.71 624.46,278.96 623.96,277.23 623.44,275.53 622.89,273.88 622.33,272.31 621.74,270.85 621.08,269.45 620.35,268.07 619.59,266.71 618.79,265.33 617.99,263.93 617.19,262.48 616.43,260.98 615.73,259.4 615.11,257.75 614.57,256.07 614.08,254.35 613.64,252.59 613.23,250.81 612.86,249.01 612.53,247.21 612.24,245.42 611.99,243.64 611.78,241.89 611.61,240.18 611.48,238.5 611.41,236.86 611.38,235.24 611.39,233.65 611.44,232.08 611.52,230.5 611.62,228.92 611.74,227.32 611.87,225.7 612.01,224.03 612.16,222.3 612.34,220.53 612.55,218.73 612.77,216.91 613.02,215.07 613.28,213.23 613.55,211.38 613.84,209.53 614.13,207.69 614.43,205.87 614.75,204.03 615.1,202.2 615.47,200.37 615.85,198.55 616.24,196.73 616.63,194.92 617.01,193.12 617.38,191.33 617.72,189.55 618.03,187.76 618.33,185.94 618.64,184.08 618.95,182.19 619.24,180.31 619.52,178.44 619.77,176.61 620,174.83 620.18,173.13 620.32,171.52 620.4,170.01 620.44,168.59 620.45,167.21 620.42,165.9 620.36,164.64 620.26,163.46 620.13,162.34 619.97,161.3 619.78,160.33 619.56,159.45 619.31,158.66 619.04,157.97 618.75,157.37 618.43,156.84 618.09,156.38 617.73,155.96 617.34,155.59 616.92,155.25 616.48,154.94 616.01,154.65 615.53,154.4 615.06,154.19 614.56,154.03 614.01,153.89 613.43,153.79 612.81,153.73 612.17,153.71 611.52,153.72 610.87,153.76 610.23,153.85 609.6,153.96 608.95,154.11 608.26,154.29 607.57,154.51 606.88,154.76 606.21,155.05 605.57,155.37 604.97,155.72 604.41,156.1 603.92,156.5 603.5,156.92 603.16,157.36 602.86,157.88 602.57,158.5 602.3,159.21 602.03,160.02 601.75,160.91 601.44,161.86 601.09,162.86 600.68,163.92 600.21,164.94 599.75,165.92 599.31,166.95 598.85,168.05 598.35,169.2 597.81,170.4 597.21,171.62 596.52,172.84 595.74,174.05 594.83,175.23 593.79,176.33 592.64,177.36 591.39,178.31 590.07,179.22 588.68,180.07 587.24,180.89 585.77,181.67 584.29,182.42 582.82,183.14 581.37,183.84 579.94,184.51 578.48,185.17 576.98,185.79 575.47,186.36 573.96,186.89 572.46,187.41 570.98,187.91 569.54,188.4 568.13,188.9 566.78,189.41 565.48,189.94 564.17,190.51 562.86,191.07 561.57,191.64 560.31,192.22 559.08,192.79 557.91,193.37 556.78,193.95 555.73,194.54 554.75,195.14 553.85,195.74 553.03,196.34 552.29,196.94 551.61,197.53 551,198.12 550.42,198.73 549.87,199.37 549.33,200.05 548.79,200.78 548.24,201.56 547.68,202.39 547.13,203.27 546.6,204.21 546.08,205.23 545.56,206.31 545.04,207.43 544.52,208.58 544,209.74 543.47,210.89 542.93,212.03 542.37,213.12 541.79,214.21 541.18,215.32 540.55,216.46 539.92,217.58 539.3,218.67 538.71,219.71 538.16,220.66 537.67,221.51 537.26,222.23 536.94,222.79" fill="none" stroke="#2ca02c" stroke-width="1.5"/><polyline points="571.04,344.2 571.82,343.89 572.81,343.48 573.95,343 575.23,342.47 576.6,341.91 578.04,341.33 579.52,340.76 580.99,340.21 582.43,339.72 583.81,339.28 585.19,338.88 586.61,338.49 588.07,338.11 589.55,337.75 591.05,337.41 592.56,337.08 594.08,336.77 595.6,336.48 597.12,336.21 598.61,335.97 600.09,335.77 601.61,335.62 603.19,335.5 604.8,335.41 606.43,335.32 608.06,335.23 609.68,335.13 611.27,334.99 612.83,334.8 614.3,334.55 615.64,334.29 616.93,334.03 618.2,333.76 619.45,333.46 620.69,333.11 621.91,332.71 623.1,332.22 624.26,331.62 625.37,330.9 626.41,330.04 627.35,329.05 628.14,327.97 628.79,326.84 629.33,325.68 629.77,324.5 630.15,323.32 630.48,322.13 630.78,320.95 631.05,319.79 631.33,318.63 631.6,317.41 631.85,316.14 632.07,314.84 632.26,313.52 632.42,312.17 632.55,310.8 632.65,309.39 632.73,307.96 632.78,306.5 632.8,305.02 632.8,303.51 632.78,301.96 632.74,300.37 632.67,298.74 632.57,297.08 632.44,295.4 632.28,293.7 632.08,291.98 631.84,290.26 631.56,288.52 631.24,286.77 630.88,284.99 630.48,283.17 630.05,281.34 629.58,279.5 629.09,277.66 628.56,275.85 628.01,274.06 627.43,272.32 626.82,270.6 626.13,268.92 625.37,267.31 624.57,265.78 623.76,264.33 622.95,262.93 622.17,261.58 621.44,260.24 620.77,258.92 620.17,257.58 619.65,256.19 619.17,254.68 618.72,253.1 618.3,251.46 617.92,249.79 617.57,248.1 617.26,246.4 616.99,244.7 616.75,243.01 616.55,241.36 616.39,239.75 616.27,238.21 616.2,236.7 616.18,235.22 616.19,233.75 616.24,232.27 616.31,230.77 616.41,229.25 616.52,227.7 616.65,226.09 616.79,224.44 616.94,222.76 617.12,221.04 617.32,219.3 617.54,217.52 617.77,215.72 618.03,213.91 618.3,212.09 618.58,210.27 618.87,208.46 619.16,206.67 619.47,204.9 619.81,203.13 620.17,201.34 620.55,199.54 620.94,197.74 621.33,195.92 621.71,194.09 622.08,192.26 622.44,190.41 622.76,188.57 623.07,186.73 623.38,184.85 623.69,182.95 623.99,181.03 624.27,179.12 624.53,177.24 624.76,175.39 624.96,173.59 625.1,171.86 625.2,170.22 625.24,168.67 625.25,167.17 625.22,165.73 625.15,164.33 625.04,162.99 624.89,161.7 624.7,160.47 624.46,159.29 624.18,158.16 623.85,157.08 623.44,156.05 622.97,155.08 622.43,154.19 621.84,153.38 621.2,152.65 620.52,152 619.82,151.42 619.1,150.92 618.38,150.48 617.62,150.08 616.78,149.71 615.89,149.41 614.98,149.19 614.07,149.04 613.15,148.94 612.23,148.91 611.31,148.92 610.4,148.99 609.51,149.1 608.64,149.26 607.79,149.45 606.92,149.69 606.02,149.97 605.12,150.3 604.2,150.69 603.29,151.14 602.4,151.66 601.53,152.26 600.69,152.95 599.9,153.75 599.19,154.67 598.61,155.65 598.15,156.63 597.78,157.59 597.46,158.53 597.17,159.45 596.89,160.34 596.59,161.21 596.26,162.04 595.86,162.92 595.38,163.95 594.89,165.06 594.43,166.17 593.96,167.27 593.48,168.35 592.96,169.38 592.42,170.36 591.82,171.28 591.17,172.12 590.45,172.89 589.59,173.65 588.59,174.42 587.46,175.19 586.23,175.94 584.93,176.68 583.56,177.41 582.15,178.12 580.73,178.82 579.3,179.5 577.92,180.16 576.59,180.76 575.23,181.32 573.82,181.85 572.38,182.36 570.92,182.86 569.44,183.36 567.96,183.87 566.48,184.39 565.02,184.94 563.61,185.52 562.27,186.1 560.94,186.68 559.61,187.26 558.3,187.86 557.01,188.46 555.74,189.09 554.51,189.73 553.32,190.39 552.17,191.09 551.09,191.81 550.11,192.53 549.2,193.26 548.36,194 547.58,194.75 546.86,195.52 546.18,196.31 545.53,197.12 544.9,197.96 544.29,198.83 543.65,199.77 543,200.82 542.37,201.94 541.78,203.09 541.21,204.26 540.67,205.44 540.14,206.61 539.63,207.75 539.12,208.86 538.62,209.91 538.12,210.91 537.57,211.92 536.98,213 536.37,214.11 535.74,215.21 535.13,216.29 534.54,217.32 534,218.27 533.51,219.12 533.09,219.85 532.77,220.42" fill="none" stroke="#ff7f0e" stroke-width="1.8"/><polyline points="570.56,342.99 571.33,342.68 572.31,342.28 573.45,341.8 574.73,341.27 576.11,340.7 577.57,340.12 579.06,339.54 580.56,338.99 582.02,338.48 583.43,338.04 584.84,337.63 586.28,337.24 587.75,336.85 589.25,336.49 590.76,336.14 592.29,335.81 593.83,335.49 595.37,335.2 596.9,334.93 598.42,334.68 599.94,334.48 601.5,334.32 603.11,334.21 604.73,334.11 606.36,334.02 607.98,333.93 609.58,333.83 611.14,333.69 612.65,333.51 614.07,333.28 615.39,333.02 616.66,332.76 617.91,332.49 619.13,332.2 620.31,331.87 621.45,331.49 622.56,331.03 623.61,330.5 624.6,329.85 625.53,329.09 626.35,328.22 627.04,327.26 627.63,326.24 628.13,325.17 628.55,324.07 628.91,322.94 629.23,321.8 629.52,320.65 629.79,319.49 630.06,318.34 630.33,317.14 630.57,315.91 630.78,314.64 630.97,313.35 631.12,312.03 631.25,310.69 631.35,309.31 631.43,307.91 631.48,306.47 631.5,305.01 631.5,303.52 631.48,301.98 631.44,300.41 631.37,298.81 631.27,297.17 631.14,295.52 630.98,293.84 630.79,292.15 630.55,290.45 630.28,288.75 629.96,287.02 629.61,285.25 629.21,283.46 628.79,281.65 628.33,279.83 627.83,278.01 627.32,276.22 626.77,274.46 626.2,272.74 625.6,271.07 624.94,269.44 624.21,267.89 623.43,266.4 622.63,264.97 621.82,263.58 621.04,262.21 620.29,260.85 619.59,259.47 618.97,258.07 618.42,256.61 617.93,255.06 617.46,253.44 617.04,251.77 616.65,250.07 616.3,248.35 615.98,246.62 615.7,244.89 615.46,243.18 615.26,241.5 615.09,239.87 614.97,238.29 614.9,236.74 614.88,235.23 614.89,233.72 614.94,232.22 615.01,230.7 615.11,229.16 615.23,227.6 615.36,225.99 615.49,224.33 615.65,222.63 615.82,220.9 616.02,219.14 616.25,217.35 616.49,215.55 616.74,213.73 617.01,211.9 617.29,210.07 617.58,208.25 617.88,206.45 618.19,204.66 618.53,202.87 618.9,201.08 619.28,199.27 619.67,197.46 620.06,195.65 620.44,193.83 620.81,192.01 621.16,190.18 621.48,188.35 621.78,186.52 622.09,184.64 622.4,182.74 622.7,180.84 622.98,178.94 623.24,177.07 623.47,175.24 623.66,173.47 623.81,171.77 623.9,170.16 623.94,168.65 623.95,167.18 623.92,165.77 623.85,164.42 623.74,163.12 623.6,161.87 623.42,160.69 623.19,159.57 622.93,158.51 622.62,157.51 622.25,156.57 621.83,155.7 621.35,154.91 620.83,154.19 620.26,153.54 619.66,152.97 619.03,152.46 618.39,152.01 617.73,151.61 617.05,151.25 616.32,150.93 615.53,150.66 614.72,150.47 613.89,150.33 613.06,150.24 612.21,150.21 611.37,150.22 610.53,150.28 609.7,150.39 608.9,150.53 608.1,150.71 607.28,150.93 606.44,151.2 605.6,151.51 604.75,151.87 603.91,152.28 603.09,152.76 602.31,153.3 601.56,153.91 600.87,154.61 600.26,155.4 599.76,156.25 599.35,157.13 599,158.03 598.7,158.93 598.41,159.84 598.12,160.75 597.81,161.66 597.46,162.55 597.04,163.47 596.56,164.48 596.09,165.57 595.63,166.68 595.15,167.8 594.65,168.9 594.11,169.99 593.53,171.03 592.88,172.03 592.16,172.96 591.35,173.82 590.42,174.65 589.35,175.47 588.17,176.28 586.89,177.06 585.55,177.82 584.16,178.57 582.73,179.29 581.29,179.99 579.86,180.68 578.47,181.34 577.1,181.96 575.7,182.53 574.27,183.07 572.81,183.59 571.34,184.09 569.86,184.59 568.39,185.09 566.93,185.61 565.5,186.15 564.12,186.72 562.78,187.29 561.46,187.87 560.14,188.45 558.85,189.04 557.57,189.64 556.33,190.25 555.12,190.87 553.97,191.52 552.87,192.18 551.84,192.87 550.9,193.56 550.04,194.25 549.24,194.95 548.51,195.66 547.82,196.39 547.18,197.14 546.56,197.92 545.96,198.72 545.36,199.57 544.74,200.48 544.12,201.48 543.52,202.55 542.94,203.67 542.39,204.82 541.85,205.98 541.33,207.14 540.81,208.29 540.3,209.41 539.79,210.48 539.27,211.51 538.72,212.54 538.12,213.63 537.5,214.75 536.88,215.86 536.26,216.94 535.67,217.97 535.12,218.92 534.63,219.77 534.22,220.49 533.9,221.06" fill="none" stroke="#d62728" stroke-width="1.8"/><polyline points="570.37,342.53 571.14,342.22 572.12,341.82 573.26,341.34 574.54,340.81 575.93,340.24 577.38,339.66 578.88,339.08 580.39,338.52 581.87,338.01 583.29,337.56 584.7,337.15 586.15,336.75 587.63,336.37 589.13,336 590.66,335.65 592.19,335.32 593.73,335 595.28,334.71 596.82,334.44 598.35,334.19 599.88,333.98 601.46,333.83 603.07,333.71 604.7,333.61 606.33,333.52 607.95,333.43 609.54,333.33 611.09,333.2 612.58,333.02 613.98,332.78 615.29,332.53 616.56,332.27 617.8,332.01 619,331.72 620.16,331.39 621.28,331.02 622.35,330.58 623.36,330.06 624.31,329.45 625.18,328.73 625.96,327.9 626.62,326.99 627.19,326.01 627.67,324.98 628.08,323.91 628.43,322.8 628.74,321.67 629.03,320.53 629.3,319.38 629.57,318.22 629.84,317.04 630.08,315.82 630.29,314.57 630.47,313.29 630.63,311.98 630.75,310.64 630.85,309.28 630.93,307.88 630.98,306.46 631,305.01 631,303.52 630.98,301.99 630.94,300.43 630.87,298.83 630.77,297.21 630.65,295.56 630.49,293.89 630.29,292.21 630.06,290.52 629.79,288.83 629.47,287.11 629.12,285.36 628.73,283.57 628.3,281.76 627.84,279.95 627.35,278.15 626.84,276.36 626.29,274.61 625.73,272.9 625.13,271.24 624.48,269.64 623.76,268.11 622.99,266.64 622.19,265.22 621.39,263.83 620.6,262.46 619.85,261.08 619.14,259.69 618.5,258.26 617.95,256.77 617.45,255.2 616.98,253.57 616.55,251.89 616.16,250.17 615.81,248.44 615.49,246.7 615.21,244.97 614.97,243.25 614.76,241.56 614.6,239.91 614.48,238.32 614.4,236.76 614.38,235.23 614.39,233.71 614.44,232.2 614.51,230.67 614.61,229.13 614.73,227.56 614.86,225.94 615,224.29 615.15,222.59 615.33,220.85 615.53,219.08 615.75,217.29 615.99,215.48 616.25,213.66 616.52,211.83 616.8,210 617.09,208.17 617.39,206.37 617.7,204.57 618.04,202.78 618.41,200.98 618.79,199.17 619.18,197.36 619.57,195.55 619.95,193.73 620.32,191.91 620.67,190.09 620.99,188.27 621.29,186.43 621.6,184.56 621.91,182.66 622.21,180.76 622.49,178.87 622.75,177 622.98,175.18 623.16,173.42 623.31,171.73 623.4,170.14 623.44,168.64 623.45,167.19 623.42,165.79 623.35,164.45 623.25,163.16 623.1,161.94 622.92,160.78 622.7,159.68 622.45,158.64 622.14,157.67 621.79,156.77 621.39,155.94 620.93,155.18 620.43,154.5 619.9,153.89 619.33,153.34 618.73,152.86 618.12,152.43 617.49,152.05 616.84,151.7 616.14,151.39 615.39,151.14 614.62,150.96 613.83,150.82 613.02,150.74 612.21,150.71 611.39,150.72 610.58,150.78 609.78,150.88 609,151.02 608.22,151.2 607.42,151.41 606.6,151.67 605.78,151.97 604.96,152.32 604.15,152.73 603.36,153.18 602.61,153.7 601.9,154.28 601.25,154.94 600.68,155.68 600.2,156.49 599.81,157.33 599.48,158.2 599.17,159.09 598.89,160 598.59,160.91 598.28,161.83 597.92,162.74 597.49,163.68 597.02,164.69 596.55,165.77 596.09,166.88 595.61,168 595.1,169.12 594.56,170.22 593.96,171.29 593.29,172.32 592.54,173.28 591.7,174.18 590.74,175.04 589.64,175.88 588.44,176.7 587.15,177.49 585.79,178.26 584.39,179.01 582.96,179.74 581.51,180.44 580.08,181.13 578.68,181.79 577.3,182.42 575.89,182.99 574.44,183.54 572.97,184.06 571.5,184.57 570.02,185.07 568.55,185.57 567.1,186.08 565.68,186.62 564.31,187.18 562.98,187.75 561.66,188.33 560.35,188.91 559.05,189.49 557.79,190.09 556.55,190.69 555.36,191.31 554.22,191.95 553.14,192.6 552.13,193.28 551.2,193.96 550.36,194.64 549.58,195.32 548.86,196.01 548.19,196.72 547.56,197.46 546.95,198.22 546.36,199.02 545.77,199.86 545.16,200.75 544.55,201.74 543.96,202.79 543.39,203.89 542.84,205.03 542.31,206.19 541.79,207.35 541.27,208.5 540.75,209.62 540.24,210.71 539.71,211.74 539.16,212.78 538.56,213.87 537.94,214.99 537.31,216.1 536.69,217.19 536.1,218.22 535.56,219.17 535.07,220.02 534.65,220.74 534.33,221.31" fill="none" stroke="#1f77b4" stroke-width="1.3"/><polyline points="569.85,341.23 570.61,340.92 571.58,340.53 572.72,340.05 574.01,339.51 575.4,338.94 576.87,338.35 578.39,337.77 579.92,337.2 581.43,336.68 582.88,336.22 584.32,335.8 585.79,335.4 587.29,335.01 588.81,334.64 590.35,334.28 591.9,333.95 593.46,333.63 595.03,333.33 596.59,333.06 598.14,332.8 599.72,332.59 601.34,332.43 602.98,332.31 604.62,332.21 606.26,332.13 607.87,332.04 609.44,331.93 610.95,331.8 612.38,331.63 613.73,331.41 615.02,331.15 616.28,330.9 617.49,330.64 618.65,330.36 619.75,330.06 620.79,329.71 621.76,329.31 622.66,328.85 623.48,328.32 624.23,327.71 624.88,327.01 625.45,326.23 625.94,325.37 626.38,324.44 626.75,323.44 627.09,322.4 627.39,321.31 627.67,320.2 627.94,319.06 628.21,317.91 628.47,316.75 628.7,315.57 628.91,314.35 629.08,313.11 629.23,311.83 629.36,310.53 629.46,309.19 629.53,307.82 629.58,306.43 629.6,305 629.6,303.53 629.58,302.02 629.54,300.48 629.47,298.9 629.38,297.3 629.25,295.68 629.09,294.04 628.9,292.39 628.67,290.73 628.41,289.07 628.1,287.38 627.75,285.65 627.36,283.88 626.94,282.1 626.49,280.31 626.01,278.53 625.5,276.77 624.96,275.04 624.4,273.36 623.83,271.74 623.2,270.2 622.51,268.73 621.76,267.31 620.98,265.91 620.18,264.53 619.38,263.14 618.61,261.74 617.88,260.29 617.21,258.79 616.62,257.23 616.11,255.6 615.63,253.93 615.19,252.21 614.79,250.47 614.43,248.71 614.11,246.94 613.83,245.18 613.58,243.43 613.37,241.71 613.2,240.04 613.08,238.4 613,236.8 612.98,235.24 612.99,233.68 613.04,232.14 613.11,230.59 613.21,229.03 613.33,227.45 613.46,225.83 613.6,224.17 613.76,222.45 613.94,220.7 614.14,218.92 614.36,217.11 614.6,215.29 614.86,213.46 615.13,211.62 615.42,209.78 615.71,207.95 616.01,206.13 616.32,204.32 616.67,202.51 617.04,200.69 617.42,198.88 617.81,197.07 618.2,195.25 618.58,193.44 618.95,191.64 619.29,189.83 619.61,188.03 619.91,186.2 620.22,184.33 620.53,182.44 620.82,180.55 621.1,178.67 621.36,176.82 621.59,175.02 621.77,173.28 621.91,171.63 622,170.08 622.04,168.61 622.05,167.2 622.02,165.84 621.95,164.54 621.85,163.3 621.72,162.13 621.54,161.02 621.34,159.98 621.1,159.02 620.82,158.13 620.51,157.33 620.16,156.61 619.77,155.96 619.34,155.38 618.89,154.86 618.4,154.39 617.89,153.98 617.35,153.6 616.8,153.26 616.23,152.96 615.63,152.7 615,152.49 614.34,152.33 613.64,152.21 612.92,152.14 612.19,152.11 611.45,152.12 610.72,152.17 609.99,152.26 609.28,152.39 608.56,152.56 607.81,152.76 607.06,153 606.29,153.27 605.54,153.59 604.81,153.96 604.11,154.37 603.45,154.82 602.84,155.32 602.3,155.86 601.84,156.47 601.44,157.14 601.1,157.87 600.79,158.67 600.51,159.52 600.22,160.42 599.92,161.35 599.59,162.31 599.21,163.29 598.76,164.27 598.29,165.26 597.84,166.32 597.37,167.42 596.89,168.56 596.37,169.71 595.79,170.87 595.15,172.01 594.43,173.13 593.61,174.19 592.68,175.19 591.62,176.12 590.46,177.01 589.2,177.87 587.86,178.7 586.47,179.49 585.03,180.25 583.58,180.99 582.12,181.7 580.68,182.39 579.27,183.06 577.85,183.7 576.4,184.3 574.92,184.85 573.44,185.38 571.95,185.89 570.47,186.39 569.01,186.89 567.58,187.4 566.19,187.92 564.86,188.47 563.54,189.04 562.22,189.61 560.92,190.18 559.64,190.76 558.39,191.35 557.18,191.94 556.02,192.55 554.92,193.16 553.89,193.79 552.93,194.43 552.05,195.07 551.26,195.71 550.53,196.35 549.86,197 549.23,197.66 548.64,198.35 548.06,199.07 547.5,199.84 546.92,200.65 546.34,201.52 545.75,202.45 545.19,203.45 544.64,204.52 544.11,205.63 543.58,206.77 543.06,207.92 542.54,209.07 542.02,210.21 541.49,211.32 540.95,212.38 540.39,213.45 539.78,214.55 539.16,215.67 538.53,216.79 537.91,217.88 537.32,218.91 536.77,219.87 536.28,220.71 535.87,221.43 535.55,222" fill="none" stroke="#9467bd" stroke-width="2.4"/><path d="M370.5 137.5V356.5H790.5" fill="none" stroke="#000" stroke-width="1"/><line x1="397.5" y1="356.5" x2="397.5" y2="361.4" stroke="#000" stroke-width="1"/><text x="397.2" y="376.1" font-size="14.65" fill="#000" text-anchor="middle" textLength="44.63" lengthAdjust="spacingAndGlyphs">−2000</text><line x1="446.5" y1="356.5" x2="446.5" y2="361.4" stroke="#000" stroke-width="1"/><text x="446.9" y="376.1" font-size="14.65" fill="#000" text-anchor="middle" textLength="44.63" lengthAdjust="spacingAndGlyphs">−1000</text><line x1="496.5" y1="356.5" x2="496.5" y2="361.4" stroke="#000" stroke-width="1"/><text x="496.6" y="376.1" font-size="14.65" fill="#000" text-anchor="middle" textLength="8.39" lengthAdjust="spacingAndGlyphs">0</text><line x1="546.5" y1="356.5" x2="546.5" y2="361.4" stroke="#000" stroke-width="1"/><text x="546.3" y="376.1" font-size="14.65" fill="#000" text-anchor="middle" textLength="33.57" lengthAdjust="spacingAndGlyphs">1000</text><line x1="596.5" y1="356.5" x2="596.5" y2="361.4" stroke="#000" stroke-width="1"/><text x="596" y="376.1" font-size="14.65" fill="#000" text-anchor="middle" textLength="33.57" lengthAdjust="spacingAndGlyphs">2000</text><line x1="645.5" y1="356.5" x2="645.5" y2="361.4" stroke="#000" stroke-width="1"/><text x="645.7" y="376.1" font-size="14.65" fill="#000" text-anchor="middle" textLength="33.57" lengthAdjust="spacingAndGlyphs">3000</text><line x1="695.5" y1="356.5" x2="695.5" y2="361.4" stroke="#000" stroke-width="1"/><text x="695.4" y="376.1" font-size="14.65" fill="#000" text-anchor="middle" textLength="33.57" lengthAdjust="spacingAndGlyphs">4000</text><line x1="745.5" y1="356.5" x2="745.5" y2="361.4" stroke="#000" stroke-width="1"/><text x="745.1" y="376.1" font-size="14.65" fill="#000" text-anchor="middle" textLength="33.57" lengthAdjust="spacingAndGlyphs">5000</text><line x1="365.6" y1="317.5" x2="370.5" y2="317.5" stroke="#000" stroke-width="1"/><text x="359.2" y="322.43" font-size="14.65" fill="#000" text-anchor="end" textLength="33.57" lengthAdjust="spacingAndGlyphs">1000</text><line x1="365.6" y1="267.5" x2="370.5" y2="267.5" stroke="#000" stroke-width="1"/><text x="359.2" y="272.46" font-size="14.65" fill="#000" text-anchor="end" textLength="33.57" lengthAdjust="spacingAndGlyphs">2000</text><line x1="365.6" y1="217.5" x2="370.5" y2="217.5" stroke="#000" stroke-width="1"/><text x="359.2" y="222.49" font-size="14.65" fill="#000" text-anchor="end" textLength="33.57" lengthAdjust="spacingAndGlyphs">3000</text><line x1="365.6" y1="167.5" x2="370.5" y2="167.5" stroke="#000" stroke-width="1"/><text x="359.2" y="172.52" font-size="14.65" fill="#000" text-anchor="end" textLength="33.57" lengthAdjust="spacingAndGlyphs">4000</text><text x="580.5" y="399.2" font-size="17.6" fill="#008000" text-anchor="middle" textLength="45.96" lengthAdjust="spacingAndGlyphs">X (m)</text><text x="313.6" y="246.9" font-size="17.6" fill="#008000" text-anchor="middle" textLength="44.73" lengthAdjust="spacingAndGlyphs" transform="rotate(-90 313.6 246.9)">Y (m)</text></svg><svg class="abs" style="left:0;top:0" width="1402" height="831" viewBox="0 0 1402 831"><defs><clipPath id="cl2"><rect x="903.4" y="125" width="437" height="247"/></clipPath></defs><line x1="940.5" y1="133.5" x2="940.5" y2="372.5" stroke="#8c8c8c" stroke-width="0.8" stroke-dasharray="2.6 1.1"/><line x1="1002.5" y1="133.5" x2="1002.5" y2="372.5" stroke="#8c8c8c" stroke-width="0.8" stroke-dasharray="2.6 1.1"/><line x1="1063.5" y1="133.5" x2="1063.5" y2="372.5" stroke="#8c8c8c" stroke-width="0.8" stroke-dasharray="2.6 1.1"/><line x1="1125.5" y1="133.5" x2="1125.5" y2="372.5" stroke="#8c8c8c" stroke-width="0.8" stroke-dasharray="2.6 1.1"/><line x1="1186.5" y1="133.5" x2="1186.5" y2="372.5" stroke="#8c8c8c" stroke-width="0.8" stroke-dasharray="2.6 1.1"/><line x1="1248.5" y1="133.5" x2="1248.5" y2="372.5" stroke="#8c8c8c" stroke-width="0.8" stroke-dasharray="2.6 1.1"/><line x1="1309.5" y1="133.5" x2="1309.5" y2="372.5" stroke="#8c8c8c" stroke-width="0.8" stroke-dasharray="2.6 1.1"/><line x1="903.5" y1="352.5" x2="1340" y2="352.5" stroke="#8c8c8c" stroke-width="0.8" stroke-dasharray="2.6 1.1"/><line x1="903.5" y1="313.5" x2="1340" y2="313.5" stroke="#8c8c8c" stroke-width="0.8" stroke-dasharray="2.6 1.1"/><line x1="903.5" y1="274.5" x2="1340" y2="274.5" stroke="#8c8c8c" stroke-width="0.8" stroke-dasharray="2.6 1.1"/><line x1="903.5" y1="234.5" x2="1340" y2="234.5" stroke="#8c8c8c" stroke-width="0.8" stroke-dasharray="2.6 1.1"/><line x1="903.5" y1="195.5" x2="1340" y2="195.5" stroke="#8c8c8c" stroke-width="0.8" stroke-dasharray="2.6 1.1"/><line x1="903.5" y1="156.5" x2="1340" y2="156.5" stroke="#8c8c8c" stroke-width="0.8" stroke-dasharray="2.6 1.1"/><g clip-path="url(#cl2)"><path d="M903.5 320.2V189.44M909.5 324.11V193.35M915.5 322.55V182.39M922.5 329.59V175.34M928.5 331.94V182.39M934.5 331.16V219.19M940.5 325.68V238.77M946.5 323.33V243.46M952.5 320.98V251.29M958.5 318.63V252.08M965.5 324.89V252.08M971.5 322.55V254.43M977.5 324.11V231.72M983.5 328.81V232.5M989.5 327.24V235.63M995.5 327.24V236.42M1002.5 329.59V258.34M1008.5 328.81V262.25M1014.5 324.89V266.17M1020.5 324.89V266.17M1026.5 327.24V263.82M1032.5 324.89V259.91M1038.5 329.59V248.16M1045.5 324.11V216.84M1051.5 324.11V255.21M1057.5 318.63V265.39M1063.5 322.55V270.87M1069.5 323.33V274M1075.5 324.89V276.35M1081.5 328.03V278.7M1088.5 328.03V254.43M1094.5 324.11V253.64M1100.5 328.03V214.49M1106.5 329.59V213.71M1112.5 331.94V241.9M1118.5 331.16V214.49M1125.5 332.73V212.14M1131.5 333.51V265.39M1137.5 334.29V263.04M1143.5 334.29V267.74M1149.5 335.86V238.77M1155.5 335.86V261.47M1161.5 335.86V267.74M1168.5 335.07V271.65M1174.5 334.29V267.74M1180.5 333.51V266.17M1186.5 336.64V274M1192.5 340.56V272.43M1198.5 344.47V281.05M1204.5 342.9V259.91M1211.5 349.17V258.34M1217.5 346.82V252.08M1223.5 348.38V283.4M1229.5 346.82V262.25M1235.5 351.52V243.46M1241.5 358.56V263.04M1248.5 352.3V275.57M1254.5 358.56V245.03M1260.5 348.38V242.68M1266.5 348.38V258.34M1272.5 346.04V145.59M1278.5 343.69V272.43M1284.5 346.82V283.4M1291.5 349.95V282.61M1297.5 353.08V285.75M1303.5 353.87V298.27M1309.5 352.3V288.88M1315.5 348.38V292.01M1321.5 358.56V288.09M1327.5 356.22V292.79M1334.5 357.78V294.36M1340.5 360.91V295.14" stroke="#ff0000" stroke-width="1.3" fill="none"/><path d="M1045.05 324.11V216.84" stroke="#ff0000" stroke-width="2.8"/><path d="M1272.6 346.04V145.59" stroke="#ff0000" stroke-width="2.8"/><polyline points="903.6,320.2 909.75,324.11 915.9,322.55 922.05,329.59 928.2,331.94 934.35,331.16 940.5,325.68 946.65,323.33 952.8,320.98 958.95,318.63 965.1,324.89 971.25,322.55 977.4,324.11 983.55,328.81 989.7,327.24 995.85,327.24 1002,329.59 1008.15,328.81 1014.3,324.89 1020.45,324.89 1026.6,327.24 1032.75,324.89 1038.9,329.59 1045.05,324.11 1051.2,324.11 1057.35,318.63 1063.5,322.55 1069.65,323.33 1075.8,324.89 1081.95,328.03 1088.1,328.03 1094.25,324.11 1100.4,328.03 1106.55,329.59 1112.7,331.94 1118.85,331.16 1125,332.73 1131.15,333.51 1137.3,334.29 1143.45,334.29 1149.6,335.86 1155.75,335.86 1161.9,335.86 1168.05,335.07 1174.2,334.29 1180.35,333.51 1186.5,336.64 1192.65,340.56 1198.8,344.47 1204.95,342.9 1211.1,349.17 1217.25,346.82 1223.4,348.38 1229.55,346.82 1235.7,351.52 1241.85,358.56 1248,352.3 1254.15,358.56 1260.3,348.38 1266.45,348.38 1272.6,346.04 1278.75,343.69 1284.9,346.82 1291.05,349.95 1297.2,353.08 1303.35,353.87 1309.5,352.3 1315.65,348.38 1321.8,358.56 1327.95,356.22 1334.1,357.78 1340.25,360.91" fill="none" stroke="#c8c8c8" stroke-width="1.6" stroke-linejoin="round" transform="translate(0,1)"/><polyline points="903.6,320.2 909.75,324.11 915.9,322.55 922.05,329.59 928.2,331.94 934.35,331.16 940.5,325.68 946.65,323.33 952.8,320.98 958.95,318.63 965.1,324.89 971.25,322.55 977.4,324.11 983.55,328.81 989.7,327.24 995.85,327.24 1002,329.59 1008.15,328.81 1014.3,324.89 1020.45,324.89 1026.6,327.24 1032.75,324.89 1038.9,329.59 1045.05,324.11 1051.2,324.11 1057.35,318.63 1063.5,322.55 1069.65,323.33 1075.8,324.89 1081.95,328.03 1088.1,328.03 1094.25,324.11 1100.4,328.03 1106.55,329.59 1112.7,331.94 1118.85,331.16 1125,332.73 1131.15,333.51 1137.3,334.29 1143.45,334.29 1149.6,335.86 1155.75,335.86 1161.9,335.86 1168.05,335.07 1174.2,334.29 1180.35,333.51 1186.5,336.64 1192.65,340.56 1198.8,344.47 1204.95,342.9 1211.1,349.17 1217.25,346.82 1223.4,348.38 1229.55,346.82 1235.7,351.52 1241.85,358.56 1248,352.3 1254.15,358.56 1260.3,348.38 1266.45,348.38 1272.6,346.04 1278.75,343.69 1284.9,346.82 1291.05,349.95 1297.2,353.08 1303.35,353.87 1309.5,352.3 1315.65,348.38 1321.8,358.56 1327.95,356.22 1334.1,357.78 1340.25,360.91" fill="none" stroke="#d62728" stroke-width="1.3" stroke-linejoin="round" stroke-dasharray="3.5 2"/><polyline points="903.6,311.58 909.75,303.75 915.9,313.15 922.05,314.72 928.2,314.72 934.35,314.72 940.5,314.72 946.65,313.15 952.8,317.06 958.95,313.93 965.1,313.93 971.25,313.93 977.4,317.85 983.55,323.33 989.7,323.33 995.85,323.33 1002,324.11 1008.15,324.11 1014.3,320.98 1020.45,320.2 1026.6,318.63 1032.75,324.11 1038.9,322.55 1045.05,320.2 1051.2,319.41 1057.35,312.37 1063.5,313.15 1069.65,316.28 1075.8,320.2 1081.95,320.98 1088.1,320.2 1094.25,314.72 1100.4,323.33 1106.55,320.2 1112.7,320.98 1118.85,323.33 1125,327.24 1131.15,328.81 1137.3,328.81 1143.45,331.16 1149.6,331.16 1155.75,332.73 1161.9,330.38 1168.05,328.81 1174.2,328.81 1180.35,331.16 1186.5,332.73 1192.65,335.86 1198.8,339.77 1204.95,338.99 1211.1,337.42 1217.25,341.34 1223.4,335.07 1229.55,336.64 1235.7,342.12 1241.85,353.87 1248,347.6 1254.15,343.69 1260.3,342.9 1266.45,338.21 1272.6,329.59 1272.6,340.56 1278.75,338.99 1284.9,339.77 1291.05,344.47 1297.2,345.25 1303.35,348.38 1309.5,349.95 1315.65,344.47 1321.8,348.38 1327.95,352.3 1334.1,356.22 1340.25,357.78" fill="none" stroke="#1f77b4" stroke-width="1.5" stroke-linejoin="round"/><polyline points="903.6,312.37 909.75,320.98 915.9,313.15 922.05,309.24 928.2,316.28 934.35,313.93 940.5,320.98 946.65,313.15 952.8,312.37 958.95,312.37 965.1,312.37 971.25,313.15 977.4,313.15 983.55,313.15 989.7,316.28 995.85,317.85 1002,321.76 1008.15,319.41 1014.3,320.2 1020.45,320.2 1026.6,318.63 1032.75,320.2 1038.9,322.55 1045.05,322.55 1051.2,320.98 1057.35,316.28 1063.5,316.28 1069.65,318.63 1075.8,320.98 1081.95,321.76 1088.1,321.76 1094.25,320.2 1100.4,324.11 1106.55,324.89 1112.7,326.46 1118.85,325.68 1125,323.33 1131.15,328.81 1137.3,328.81 1143.45,328.03 1149.6,331.16 1155.75,331.16 1161.9,328.03 1168.05,328.03 1174.2,328.03 1180.35,326.46 1186.5,332.73 1192.65,334.29 1198.8,342.12 1204.95,340.56 1211.1,343.69 1217.25,342.12 1223.4,338.99 1229.55,336.64 1235.7,347.6 1241.85,346.04 1248,337.42 1254.15,336.64 1260.3,335.07 1266.45,340.56 1272.6,337.42 1272.6,341.34 1278.75,342.12 1284.9,342.9 1291.05,343.69 1297.2,343.69 1303.35,348.38 1309.5,347.6 1315.65,342.9 1321.8,352.3 1327.95,349.95 1334.1,355.43 1340.25,355.43" fill="none" stroke="#9467bd" stroke-width="1.5" stroke-linejoin="round"/><polyline points="903.6,273.22 909.75,279.48 915.9,284.96 922.05,284.96 928.2,284.96 934.35,285.75 940.5,286.53 946.65,287.31 952.8,283.4 958.95,273.22 965.1,267.74 971.25,261.47 977.4,263.82 983.55,269.3 989.7,269.3 995.85,268.52 1002,267.74 1008.15,267.74 1014.3,269.3 1020.45,270.87 1026.6,271.65 1032.75,259.91 1038.9,247.38 1043.2,301.41 1045.05,244.25 1051.2,255.21 1057.35,265.39 1063.5,276.35 1069.65,279.48 1075.8,281.05 1081.95,281.83 1088.1,282.61 1094.25,282.61 1100.4,284.18 1106.55,284.96 1112.7,299.06 1118.85,300.62 1125,308.45 1131.15,312.37 1137.3,309.24 1143.45,310.02 1149.6,306.1 1155.75,306.89 1161.9,306.89 1168.05,304.54 1174.2,305.32 1180.35,306.1 1186.5,309.24 1192.65,317.06 1198.8,304.54 1204.95,300.62 1211.1,303.75 1217.25,320.2 1223.4,313.93 1229.55,301.41 1235.7,304.54 1241.85,308.45 1248,309.24 1254.15,311.58 1260.3,309.24 1266.45,310.8 1272.6,317.06 1272.6,311.58 1278.75,313.15 1284.9,325.68 1291.05,327.24 1297.2,328.03 1303.35,326.46 1309.5,328.81 1315.65,322.55 1321.8,324.11 1327.95,325.68 1334.1,328.81 1340.25,328.81" fill="none" stroke="#ff7f0e" stroke-width="1.5" stroke-linejoin="round"/><polyline points="903.6,273.22 909.75,277.13 915.9,284.96 922.05,284.96 928.2,284.96 934.35,284.96 940.5,284.96 946.65,288.88 952.8,288.88 958.95,291.23 965.1,292.01 971.25,292.79 977.4,288.88 983.55,289.66 989.7,286.53 995.85,288.88 1002,288.88 1008.15,287.31 1014.3,289.66 1020.45,287.31 1026.6,285.75 1032.75,285.75 1038.9,286.53 1045.05,288.09 1051.2,284.18 1057.35,281.83 1063.5,281.05 1069.65,284.18 1075.8,288.09 1081.95,292.01 1088.1,288.09 1094.25,284.18 1100.4,282.61 1106.55,284.96 1112.7,286.53 1118.85,290.44 1125,287.31 1131.15,290.44 1137.3,299.06 1143.45,302.19 1149.6,302.19 1155.75,302.19 1161.9,302.19 1168.05,301.41 1174.2,301.41 1180.35,305.32 1186.5,310.02 1192.65,310.8 1198.8,311.58 1204.95,306.89 1211.1,305.32 1217.25,312.37 1223.4,313.15 1229.55,310.02 1235.7,306.1 1241.85,308.45 1248,310.02 1254.15,292.01 1260.3,292.79 1266.45,298.27 1272.6,298.27 1272.6,308.45 1278.75,306.1 1284.9,314.72 1291.05,317.85 1297.2,317.85 1303.35,316.28 1309.5,317.06 1315.65,320.98 1321.8,325.68 1327.95,328.81 1334.1,328.81 1340.25,328.81" fill="none" stroke="#2ca02c" stroke-width="1.5" stroke-linejoin="round"/><path d="M922.05 329.59V175.34" stroke="#000" stroke-width="2.5" stroke-dasharray="7.5 3.6"/><path d="M928.2 331.94V182.39" stroke="#0000ff" stroke-width="3"/><path d="M934.35 331.16V219.19" stroke="#bf00bf" stroke-width="2.3" stroke-dasharray="7.5 3.6"/></g><path d="M903.5 133.5V372.5H1340" fill="none" stroke="#000" stroke-width="1"/><line x1="940.5" y1="372.5" x2="940.5" y2="377.4" stroke="#000" stroke-width="1"/><text x="940.5" y="393.1" font-size="14.65" fill="#000" text-anchor="middle" textLength="33.57" lengthAdjust="spacingAndGlyphs">7000</text><line x1="1002.5" y1="372.5" x2="1002.5" y2="377.4" stroke="#000" stroke-width="1"/><text x="1002" y="393.1" font-size="14.65" fill="#000" text-anchor="middle" textLength="33.57" lengthAdjust="spacingAndGlyphs">6000</text><line x1="1063.5" y1="372.5" x2="1063.5" y2="377.4" stroke="#000" stroke-width="1"/><text x="1063.5" y="393.1" font-size="14.65" fill="#000" text-anchor="middle" textLength="33.57" lengthAdjust="spacingAndGlyphs">5000</text><line x1="1125.5" y1="372.5" x2="1125.5" y2="377.4" stroke="#000" stroke-width="1"/><text x="1125" y="393.1" font-size="14.65" fill="#000" text-anchor="middle" textLength="33.57" lengthAdjust="spacingAndGlyphs">4000</text><line x1="1186.5" y1="372.5" x2="1186.5" y2="377.4" stroke="#000" stroke-width="1"/><text x="1186.5" y="393.1" font-size="14.65" fill="#000" text-anchor="middle" textLength="33.57" lengthAdjust="spacingAndGlyphs">3000</text><line x1="1248.5" y1="372.5" x2="1248.5" y2="377.4" stroke="#000" stroke-width="1"/><text x="1248" y="393.1" font-size="14.65" fill="#000" text-anchor="middle" textLength="33.57" lengthAdjust="spacingAndGlyphs">2000</text><line x1="1309.5" y1="372.5" x2="1309.5" y2="377.4" stroke="#000" stroke-width="1"/><text x="1309.5" y="393.1" font-size="14.65" fill="#000" text-anchor="middle" textLength="33.57" lengthAdjust="spacingAndGlyphs">1000</text><line x1="898.6" y1="352.5" x2="903.5" y2="352.5" stroke="#000" stroke-width="1"/><text x="892.2" y="357.3" font-size="14.65" fill="#000" text-anchor="end" textLength="25.18" lengthAdjust="spacingAndGlyphs">130</text><line x1="898.6" y1="313.5" x2="903.5" y2="313.5" stroke="#000" stroke-width="1"/><text x="892.2" y="318.15" font-size="14.65" fill="#000" text-anchor="end" textLength="25.18" lengthAdjust="spacingAndGlyphs">135</text><line x1="898.6" y1="274.5" x2="903.5" y2="274.5" stroke="#000" stroke-width="1"/><text x="892.2" y="279" font-size="14.65" fill="#000" text-anchor="end" textLength="25.18" lengthAdjust="spacingAndGlyphs">140</text><line x1="898.6" y1="234.5" x2="903.5" y2="234.5" stroke="#000" stroke-width="1"/><text x="892.2" y="239.85" font-size="14.65" fill="#000" text-anchor="end" textLength="25.18" lengthAdjust="spacingAndGlyphs">145</text><line x1="898.6" y1="195.5" x2="903.5" y2="195.5" stroke="#000" stroke-width="1"/><text x="892.2" y="200.7" font-size="14.65" fill="#000" text-anchor="end" textLength="25.18" lengthAdjust="spacingAndGlyphs">150</text><line x1="898.6" y1="156.5" x2="903.5" y2="156.5" stroke="#000" stroke-width="1"/><text x="892.2" y="161.55" font-size="14.65" fill="#000" text-anchor="end" textLength="25.18" lengthAdjust="spacingAndGlyphs">155</text><text x="1121.7" y="414.9" font-size="17.6" fill="#008000" text-anchor="middle" textLength="56.06" lengthAdjust="spacingAndGlyphs">Kp (m)</text><text x="857.2" y="252.9" font-size="17.6" fill="#008000" text-anchor="middle" textLength="89.65" lengthAdjust="spacingAndGlyphs" transform="rotate(-90 857.2 252.9)">Height (m)</text></svg><svg class="abs" style="left:0;top:0" width="1402" height="831" viewBox="0 0 1402 831"><line x1="519.5" y1="478.1" x2="519.5" y2="716.5" stroke="#8c8c8c" stroke-width="0.8" stroke-dasharray="2.6 1.1"/><line x1="644.5" y1="478.1" x2="644.5" y2="716.5" stroke="#8c8c8c" stroke-width="0.8" stroke-dasharray="2.6 1.1"/><line x1="769.5" y1="478.1" x2="769.5" y2="716.5" stroke="#8c8c8c" stroke-width="0.8" stroke-dasharray="2.6 1.1"/><line x1="893.5" y1="478.1" x2="893.5" y2="716.5" stroke="#8c8c8c" stroke-width="0.8" stroke-dasharray="2.6 1.1"/><line x1="1018.5" y1="478.1" x2="1018.5" y2="716.5" stroke="#8c8c8c" stroke-width="0.8" stroke-dasharray="2.6 1.1"/><line x1="1143.5" y1="478.1" x2="1143.5" y2="716.5" stroke="#8c8c8c" stroke-width="0.8" stroke-dasharray="2.6 1.1"/><line x1="1268.5" y1="478.1" x2="1268.5" y2="716.5" stroke="#8c8c8c" stroke-width="0.8" stroke-dasharray="2.6 1.1"/><line x1="475.5" y1="680.5" x2="1324" y2="680.5" stroke="#8c8c8c" stroke-width="0.8" stroke-dasharray="2.6 1.1"/><line x1="475.5" y1="625.5" x2="1324" y2="625.5" stroke="#8c8c8c" stroke-width="0.8" stroke-dasharray="2.6 1.1"/><line x1="475.5" y1="571.5" x2="1324" y2="571.5" stroke="#8c8c8c" stroke-width="0.8" stroke-dasharray="2.6 1.1"/><line x1="475.5" y1="517.5" x2="1324" y2="517.5" stroke="#8c8c8c" stroke-width="0.8" stroke-dasharray="2.6 1.1"/><polyline points="513.2,489.4 596.7,529.4 626.4,613.9 628,637.4 643.6,641.5 668.9,678.9 699.9,702.8 713.9,697.8 747.8,691.8 759.8,683.5 804.7,683.5 829.7,647.9 875.4,599.4 884,600.1 1190.4,600.8" fill="none" stroke="#000" stroke-width="2.5" stroke-dasharray="9.2 3.8"/><polyline points="523.2,499.7 596.7,537.3 625.5,613.9 626.4,639 643.6,641.5 668.9,683.5 674.9,685.5 684.9,700.8 698.3,704.8 708.9,699.4 729.4,688.8 750.8,689.8 755.4,687.2 771.8,687.2 774.8,684.9 803.7,684.3 830.7,642.3 842.7,640.9 873.6,608 1241.7,591.5" fill="none" stroke="#0000ff" stroke-width="2.5" stroke-linejoin="round"/><polyline points="531,549.8 604.5,573.3 625.5,620.2 626.4,638 643.6,641.5 668,677.9 701.9,704.2 713.9,688.8 731.8,692.8 757.8,692.8 768.8,689.4 793.8,689.4 803.7,682.9 828.7,642.9 862.7,640.3 921.6,617.9 974.7,628.5 1113.3,605.2 1284.5,592.2" fill="none" stroke="#bf00bf" stroke-width="2" stroke-dasharray="7.6 4.2"/><text x="643.6" y="655.3" font-size="14.65" fill="#d62728" text-anchor="start" textLength="14.53" lengthAdjust="spacingAndGlyphs">rg</text><text x="675.2" y="696.2" font-size="14.65" fill="#9467bd" text-anchor="start" textLength="27.59" lengthAdjust="spacingAndGlyphs">FG1</text><text x="698.9" y="716.2" font-size="14.65" fill="#ff7f0e" text-anchor="start" textLength="27.85" lengthAdjust="spacingAndGlyphs">AX1</text><text x="805.3" y="694.8" font-size="14.65" fill="#1f77b4" text-anchor="start" textLength="27.52" lengthAdjust="spacingAndGlyphs">FD1</text><text x="830.7" y="653.5" font-size="14.65" fill="#2ca02c" text-anchor="start" textLength="14.53" lengthAdjust="spacingAndGlyphs">rd</text><path d="M475.5 478.1V716.5H1324" fill="none" stroke="#000" stroke-width="1"/><line x1="519.5" y1="716.5" x2="519.5" y2="721.4" stroke="#000" stroke-width="1"/><text x="519.46" y="737.1" font-size="14.65" fill="#000" text-anchor="middle" textLength="27.84" lengthAdjust="spacingAndGlyphs">−50</text><line x1="644.5" y1="716.5" x2="644.5" y2="721.4" stroke="#000" stroke-width="1"/><text x="644.3" y="737.1" font-size="14.65" fill="#000" text-anchor="middle" textLength="8.39" lengthAdjust="spacingAndGlyphs">0</text><line x1="769.5" y1="716.5" x2="769.5" y2="721.4" stroke="#000" stroke-width="1"/><text x="769.14" y="737.1" font-size="14.65" fill="#000" text-anchor="middle" textLength="16.78" lengthAdjust="spacingAndGlyphs">50</text><line x1="893.5" y1="716.5" x2="893.5" y2="721.4" stroke="#000" stroke-width="1"/><text x="893.98" y="737.1" font-size="14.65" fill="#000" text-anchor="middle" textLength="25.18" lengthAdjust="spacingAndGlyphs">100</text><line x1="1018.5" y1="716.5" x2="1018.5" y2="721.4" stroke="#000" stroke-width="1"/><text x="1018.82" y="737.1" font-size="14.65" fill="#000" text-anchor="middle" textLength="25.18" lengthAdjust="spacingAndGlyphs">150</text><line x1="1143.5" y1="716.5" x2="1143.5" y2="721.4" stroke="#000" stroke-width="1"/><text x="1143.66" y="737.1" font-size="14.65" fill="#000" text-anchor="middle" textLength="25.18" lengthAdjust="spacingAndGlyphs">200</text><line x1="1268.5" y1="716.5" x2="1268.5" y2="721.4" stroke="#000" stroke-width="1"/><text x="1268.5" y="737.1" font-size="14.65" fill="#000" text-anchor="middle" textLength="25.18" lengthAdjust="spacingAndGlyphs">250</text><line x1="470.6" y1="680.5" x2="475.5" y2="680.5" stroke="#000" stroke-width="1"/><text x="464.2" y="685.2" font-size="14.65" fill="#000" text-anchor="end" textLength="25.18" lengthAdjust="spacingAndGlyphs">135</text><line x1="470.6" y1="625.5" x2="475.5" y2="625.5" stroke="#000" stroke-width="1"/><text x="464.2" y="630.85" font-size="14.65" fill="#000" text-anchor="end" textLength="25.18" lengthAdjust="spacingAndGlyphs">140</text><line x1="470.6" y1="571.5" x2="475.5" y2="571.5" stroke="#000" stroke-width="1"/><text x="464.2" y="576.5" font-size="14.65" fill="#000" text-anchor="end" textLength="25.18" lengthAdjust="spacingAndGlyphs">145</text><line x1="470.6" y1="517.5" x2="475.5" y2="517.5" stroke="#000" stroke-width="1"/><text x="464.2" y="522.15" font-size="14.65" fill="#000" text-anchor="end" textLength="25.18" lengthAdjust="spacingAndGlyphs">150</text><text x="898.7" y="758.7" font-size="17.6" fill="#008000" text-anchor="middle" textLength="203.14" lengthAdjust="spacingAndGlyphs">Transverse abscissa (m)</text><text x="427.3" y="597.1" font-size="17.6" fill="#008000" text-anchor="middle" textLength="89.65" lengthAdjust="spacingAndGlyphs" transform="rotate(-90 427.3 597.1)">Height (m)</text><rect x="1157.6" y="486.3" width="163.3" height="50.4" rx="2" fill="#9a9a9a" opacity="0.75"/><rect x="1155.6" y="484.3" width="163.3" height="50.4" rx="2" fill="#fff" stroke="#cccccc" stroke-width="1"/><line x1="1159.2" y1="492.5" x2="1182.5" y2="492.5" stroke="#000" stroke-width="2.5" stroke-dasharray="9.2 3.8"/><line x1="1158.2" y1="508.3" x2="1183.5" y2="508.3" stroke="#0000ff" stroke-width="2.8"/><line x1="1159" y1="523.1" x2="1179.5" y2="523.1" stroke="#bf00bf" stroke-width="2" stroke-dasharray="7.6 4.2"/><text x="1190.5" y="495.8" font-size="11.6" fill="#000" text-anchor="start" textLength="122.3" lengthAdjust="spacingAndGlyphs">Previous cross-section</text><text x="1191.3" y="511.6" font-size="11.6" fill="#000" text-anchor="start" textLength="73.99" lengthAdjust="spacingAndGlyphs">Cross-section</text><text x="1190.5" y="526.8" font-size="11.6" fill="#000" text-anchor="start" textLength="101.67" lengthAdjust="spacingAndGlyphs">Next cross-section</text></svg>
</div></body></html>
